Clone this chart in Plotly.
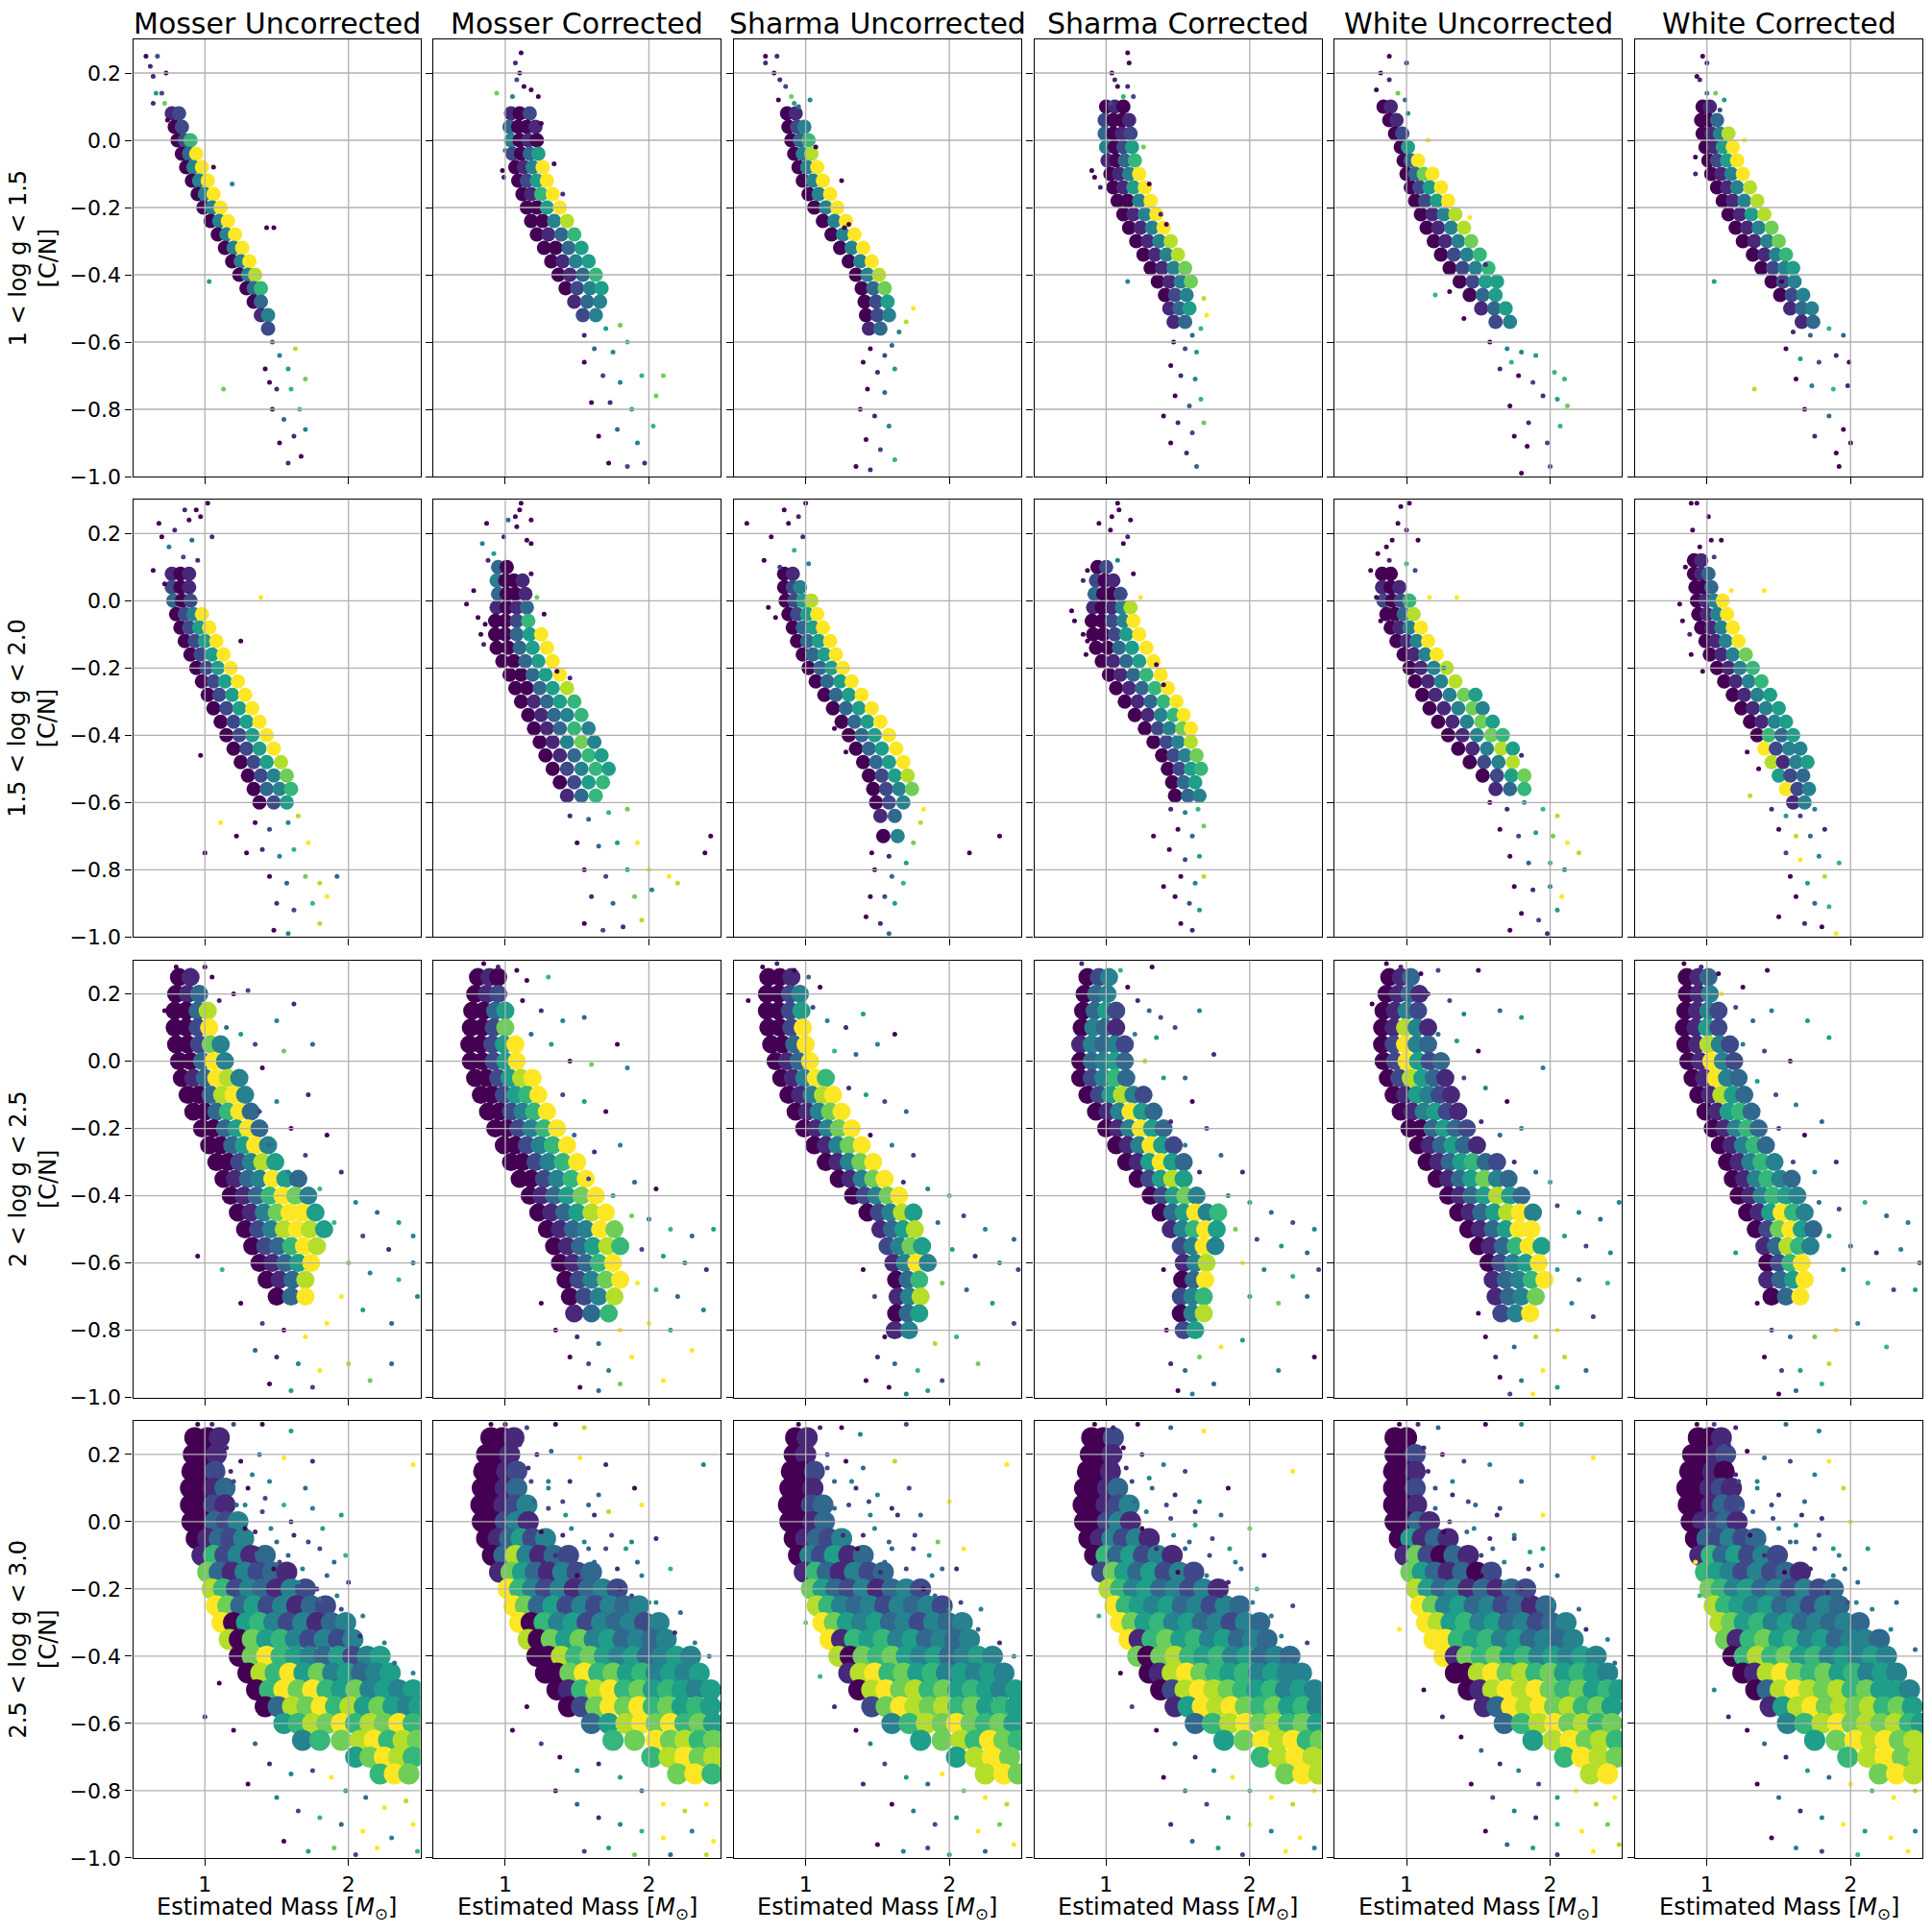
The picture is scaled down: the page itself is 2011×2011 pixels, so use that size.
import plotly.graph_objects as go

# grid of C/N vs estimated mass, one column per scaling relation, one row per log g bin
METHODS = ['Mosser Uncorrected', 'Mosser Corrected', 'Sharma Uncorrected',
           'Sharma Corrected', 'White Uncorrected', 'White Corrected']
ROW_LABELS = ['1 &lt; log g &lt; 1.5', '1.5 &lt; log g &lt; 2.0',
              '2 &lt; log g &lt; 2.5', '2.5 &lt; log g &lt; 3.0']
X_TICKS = [1, 2]
Y_TICKS = [-1.0, -0.8, -0.6, -0.4, -0.2, 0.0, 0.2]
Y_TICKTEXT = ['\u22121.0', '\u22120.8', '\u22120.6', '\u22120.4', '\u22120.2', '0.0', '0.2']

# dense part of each cloud: (C/N, [(mass, colour 0..9), ...])
MU1_CORE = [
    (0.08, [(0.77, 1), (0.82, 2)]),
    (0.04, [(0.79, 0), (0.84, 2)]),
    (0.00, [(0.81, 0), (0.86, 2), (0.90, 6)]),
    (-0.04, [(0.84, 0), (0.89, 3), (0.94, 9)]),
    (-0.08, [(0.87, 0), (0.92, 4), (0.98, 9)]),
    (-0.12, [(0.91, 0), (0.96, 4), (1.02, 9)]),
    (-0.16, [(0.95, 0), (1.00, 4), (1.06, 9)]),
    (-0.20, [(0.99, 0), (1.05, 4), (1.11, 9)]),
    (-0.24, [(1.04, 0), (1.10, 4), (1.16, 9)]),
    (-0.28, [(1.09, 0), (1.15, 4), (1.21, 9)]),
    (-0.32, [(1.14, 0), (1.20, 4), (1.26, 9)]),
    (-0.36, [(1.19, 0), (1.25, 4), (1.31, 9)]),
    (-0.40, [(1.24, 0), (1.30, 4), (1.35, 8)]),
    (-0.44, [(1.29, 0), (1.34, 3), (1.39, 6)]),
    (-0.48, [(1.34, 0), (1.39, 3)]),
    (-0.52, [(1.39, 1), (1.44, 4)]),
    (-0.56, [(1.44, 2)]),
]
MC1_CORE = [
    (0.08, [(1.04, 1), (1.10, 0), (1.17, 2)]),
    (0.04, [(1.03, 3), (1.09, 0), (1.15, 0), (1.21, 1)]),
    (0.00, [(1.04, 4), (1.10, 0), (1.16, 1), (1.22, 0)]),
    (-0.04, [(1.05, 2), (1.11, 0), (1.17, 3), (1.23, 5)]),
    (-0.08, [(1.07, 0), (1.13, 1), (1.19, 4), (1.26, 9)]),
    (-0.12, [(1.09, 0), (1.15, 2), (1.22, 5), (1.29, 9)]),
    (-0.16, [(1.12, 0), (1.18, 1), (1.25, 6), (1.33, 9)]),
    (-0.20, [(1.15, 0), (1.22, 0), (1.29, 5), (1.38, 9)]),
    (-0.24, [(1.18, 0), (1.26, 0), (1.34, 4), (1.43, 8)]),
    (-0.28, [(1.22, 0), (1.30, 1), (1.39, 3), (1.48, 6)]),
    (-0.32, [(1.27, 0), (1.35, 0), (1.44, 3), (1.53, 5)]),
    (-0.36, [(1.32, 0), (1.40, 1), (1.49, 4), (1.58, 5)]),
    (-0.40, [(1.37, 0), (1.45, 1), (1.54, 3), (1.63, 6)]),
    (-0.44, [(1.42, 0), (1.50, 2), (1.59, 4), (1.67, 5)]),
    (-0.48, [(1.48, 1), (1.57, 3), (1.66, 4)]),
    (-0.52, [(1.54, 2), (1.63, 4)]),
]
SU1_CORE = [
    (0.08, [(0.87, 0), (0.93, 1)]),
    (0.04, [(0.88, 0), (0.94, 2), (0.99, 4)]),
    (0.00, [(0.90, 0), (0.96, 3), (1.02, 6)]),
    (-0.04, [(0.92, 0), (0.98, 4), (1.04, 8)]),
    (-0.08, [(0.95, 0), (1.01, 4), (1.08, 9)]),
    (-0.12, [(0.98, 0), (1.05, 4), (1.12, 9)]),
    (-0.16, [(1.02, 0), (1.09, 4), (1.17, 9)]),
    (-0.20, [(1.06, 0), (1.14, 4), (1.22, 9)]),
    (-0.24, [(1.12, 0), (1.20, 4), (1.28, 9)]),
    (-0.28, [(1.18, 0), (1.26, 4), (1.34, 9)]),
    (-0.32, [(1.24, 0), (1.32, 4), (1.40, 9)]),
    (-0.36, [(1.30, 0), (1.38, 4), (1.46, 9)]),
    (-0.40, [(1.35, 0), (1.43, 4), (1.51, 8)]),
    (-0.44, [(1.39, 0), (1.47, 3), (1.55, 7)]),
    (-0.48, [(1.41, 0), (1.49, 2), (1.57, 5)]),
    (-0.52, [(1.42, 0), (1.50, 2), (1.58, 4)]),
    (-0.56, [(1.44, 1), (1.52, 3)]),
]
SC1_CORE = [
    (0.10, [(1.00, 0), (1.06, 1), (1.12, 0)]),
    (0.06, [(0.99, 2), (1.05, 0), (1.11, 0), (1.16, 1)]),
    (0.02, [(0.99, 3), (1.05, 0), (1.11, 1), (1.17, 2)]),
    (-0.02, [(1.00, 4), (1.06, 0), (1.12, 2), (1.18, 5)]),
    (-0.06, [(1.01, 1), (1.07, 0), (1.13, 3), (1.20, 6)]),
    (-0.10, [(1.03, 0), (1.09, 1), (1.16, 4), (1.23, 9)]),
    (-0.14, [(1.05, 0), (1.12, 1), (1.19, 5), (1.27, 9)]),
    (-0.18, [(1.08, 0), (1.15, 0), (1.23, 4), (1.31, 9)]),
    (-0.22, [(1.12, 0), (1.19, 1), (1.27, 4), (1.35, 9)]),
    (-0.26, [(1.16, 0), (1.24, 1), (1.32, 4), (1.40, 9)]),
    (-0.30, [(1.21, 0), (1.29, 1), (1.37, 4), (1.45, 8)]),
    (-0.34, [(1.26, 0), (1.34, 1), (1.42, 4), (1.50, 8)]),
    (-0.38, [(1.31, 0), (1.39, 1), (1.47, 4), (1.55, 7)]),
    (-0.42, [(1.36, 0), (1.44, 1), (1.52, 4), (1.59, 7)]),
    (-0.46, [(1.41, 0), (1.48, 2), (1.56, 4)]),
    (-0.50, [(1.44, 1), (1.51, 3), (1.58, 5)]),
    (-0.54, [(1.47, 1), (1.55, 3)]),
]
WU1_CORE = [
    (0.10, [(0.84, 0), (0.89, 1)]),
    (0.06, [(0.88, 0), (0.93, 1)]),
    (0.02, [(0.92, 0), (0.97, 2)]),
    (-0.02, [(0.96, 0), (1.01, 5)]),
    (-0.06, [(0.98, 0), (1.03, 3), (1.08, 9)]),
    (-0.10, [(1.00, 0), (1.06, 3), (1.12, 7), (1.18, 9)]),
    (-0.14, [(1.03, 0), (1.09, 2), (1.16, 5), (1.24, 9)]),
    (-0.18, [(1.06, 0), (1.13, 2), (1.21, 5), (1.29, 9)]),
    (-0.22, [(1.10, 0), (1.18, 1), (1.26, 4), (1.34, 8)]),
    (-0.26, [(1.14, 0), (1.22, 1), (1.31, 4), (1.40, 8)]),
    (-0.30, [(1.19, 0), (1.27, 1), (1.36, 4), (1.45, 7)]),
    (-0.34, [(1.24, 0), (1.33, 2), (1.42, 4), (1.51, 6)]),
    (-0.38, [(1.30, 0), (1.39, 2), (1.48, 4), (1.57, 6)]),
    (-0.42, [(1.37, 0), (1.46, 2), (1.55, 5), (1.63, 5)]),
    (-0.46, [(1.44, 0), (1.53, 3), (1.62, 5)]),
    (-0.50, [(1.52, 1), (1.61, 3), (1.69, 5)]),
    (-0.54, [(1.62, 2), (1.72, 4)]),
]
WC1_CORE = [
    (0.10, [(0.97, 0), (1.02, 1)]),
    (0.06, [(0.96, 0), (1.01, 0), (1.07, 3)]),
    (0.02, [(0.97, 0), (1.03, 1), (1.09, 4), (1.15, 8)]),
    (-0.02, [(0.99, 0), (1.05, 1), (1.11, 5), (1.18, 9)]),
    (-0.06, [(1.01, 0), (1.07, 2), (1.14, 5), (1.21, 9)]),
    (-0.10, [(1.03, 0), (1.10, 1), (1.17, 4), (1.25, 9)]),
    (-0.14, [(1.07, 0), (1.14, 1), (1.21, 4), (1.30, 8)]),
    (-0.18, [(1.11, 0), (1.18, 1), (1.26, 4), (1.35, 8)]),
    (-0.22, [(1.15, 0), (1.23, 1), (1.31, 5), (1.40, 8)]),
    (-0.26, [(1.20, 0), (1.28, 1), (1.36, 4), (1.45, 7)]),
    (-0.30, [(1.25, 0), (1.33, 1), (1.42, 4), (1.50, 7)]),
    (-0.34, [(1.32, 0), (1.40, 1), (1.48, 4), (1.55, 6)]),
    (-0.38, [(1.38, 0), (1.46, 2), (1.54, 4), (1.60, 5)]),
    (-0.42, [(1.45, 0), (1.53, 2), (1.61, 4)]),
    (-0.46, [(1.51, 0), (1.59, 2), (1.67, 4)]),
    (-0.50, [(1.58, 1), (1.66, 3), (1.73, 4)]),
    (-0.54, [(1.66, 1), (1.74, 3)]),
]

MU2_CORE = [
    (0.08, [(0.77, 1), (0.83, 0), (0.89, 1)]),
    (0.04, [(0.77, 2), (0.83, 0), (0.89, 1)]),
    (0.00, [(0.78, 3), (0.84, 0), (0.90, 2)]),
    (-0.04, [(0.80, 0), (0.86, 2), (0.92, 4), (0.98, 9)]),
    (-0.08, [(0.83, 0), (0.89, 2), (0.96, 5), (1.03, 9)]),
    (-0.12, [(0.86, 0), (0.93, 2), (1.00, 5), (1.08, 9)]),
    (-0.16, [(0.90, 0), (0.97, 2), (1.05, 5), (1.13, 9)]),
    (-0.20, [(0.94, 0), (1.01, 2), (1.09, 5), (1.18, 9)]),
    (-0.24, [(0.98, 0), (1.06, 2), (1.14, 5), (1.23, 9)]),
    (-0.28, [(1.02, 0), (1.10, 2), (1.19, 5), (1.28, 9)]),
    (-0.32, [(1.06, 0), (1.15, 2), (1.24, 5), (1.33, 9)]),
    (-0.36, [(1.11, 0), (1.20, 2), (1.29, 5), (1.38, 9)]),
    (-0.40, [(1.15, 0), (1.24, 2), (1.33, 5), (1.43, 9)]),
    (-0.44, [(1.20, 0), (1.29, 2), (1.38, 5), (1.48, 9)]),
    (-0.48, [(1.25, 0), (1.34, 2), (1.43, 5), (1.53, 8)]),
    (-0.52, [(1.30, 0), (1.39, 2), (1.48, 4), (1.57, 7)]),
    (-0.56, [(1.34, 0), (1.43, 3), (1.52, 4), (1.60, 6)]),
    (-0.60, [(1.38, 0), (1.48, 2), (1.57, 5)]),
]
MC2_CORE = [
    (0.10, [(0.95, 3), (1.01, 0)]),
    (0.06, [(0.94, 4), (1.00, 0), (1.06, 0), (1.12, 1)]),
    (0.02, [(0.95, 3), (1.01, 0), (1.07, 0), (1.14, 1)]),
    (-0.02, [(0.94, 1), (1.01, 0), (1.08, 1), (1.15, 3)]),
    (-0.06, [(0.93, 0), (1.00, 0), (1.08, 2), (1.16, 6)]),
    (-0.10, [(0.93, 0), (1.00, 0), (1.08, 3), (1.17, 5), (1.25, 9)]),
    (-0.14, [(0.94, 0), (1.02, 0), (1.10, 3), (1.19, 5), (1.29, 9)]),
    (-0.18, [(0.98, 0), (1.06, 0), (1.14, 3), (1.23, 5), (1.33, 9)]),
    (-0.22, [(1.03, 0), (1.11, 0), (1.19, 3), (1.28, 5), (1.38, 9)]),
    (-0.26, [(1.07, 0), (1.15, 0), (1.24, 3), (1.33, 5), (1.43, 8)]),
    (-0.30, [(1.11, 0), (1.20, 1), (1.29, 3), (1.38, 5), (1.48, 6)]),
    (-0.34, [(1.16, 0), (1.25, 1), (1.34, 3), (1.43, 4), (1.53, 6)]),
    (-0.38, [(1.20, 0), (1.29, 1), (1.38, 3), (1.48, 6), (1.58, 4)]),
    (-0.42, [(1.24, 0), (1.33, 1), (1.43, 4), (1.53, 7), (1.62, 4)]),
    (-0.46, [(1.28, 0), (1.38, 1), (1.48, 3), (1.58, 6), (1.67, 5)]),
    (-0.50, [(1.33, 0), (1.43, 2), (1.53, 4), (1.63, 6), (1.72, 5)]),
    (-0.54, [(1.38, 0), (1.48, 2), (1.58, 5), (1.68, 6)]),
    (-0.58, [(1.43, 1), (1.53, 3), (1.63, 6)]),
]
SU2_CORE = [
    (0.08, [(0.85, 0), (0.91, 1)]),
    (0.04, [(0.85, 0), (0.91, 2), (0.96, 4)]),
    (0.00, [(0.86, 0), (0.92, 2), (0.98, 5), (1.04, 8)]),
    (-0.04, [(0.88, 0), (0.94, 2), (1.01, 5), (1.08, 9)]),
    (-0.08, [(0.91, 0), (0.98, 3), (1.05, 5), (1.12, 9)]),
    (-0.12, [(0.94, 0), (1.01, 3), (1.09, 5), (1.17, 9)]),
    (-0.16, [(0.98, 0), (1.05, 3), (1.13, 5), (1.21, 9)]),
    (-0.20, [(1.02, 0), (1.10, 3), (1.18, 5), (1.26, 9)]),
    (-0.24, [(1.07, 0), (1.15, 3), (1.24, 5), (1.32, 9)]),
    (-0.28, [(1.13, 0), (1.21, 3), (1.30, 5), (1.39, 9)]),
    (-0.32, [(1.19, 0), (1.28, 3), (1.37, 5), (1.46, 9)]),
    (-0.36, [(1.25, 0), (1.34, 3), (1.43, 5), (1.52, 9)]),
    (-0.40, [(1.30, 0), (1.39, 3), (1.48, 5), (1.58, 9)]),
    (-0.44, [(1.35, 0), (1.44, 3), (1.53, 5), (1.63, 9)]),
    (-0.48, [(1.40, 0), (1.49, 3), (1.58, 5), (1.68, 9)]),
    (-0.52, [(1.44, 0), (1.53, 2), (1.62, 5), (1.71, 8)]),
    (-0.56, [(1.47, 0), (1.56, 2), (1.65, 4), (1.74, 7)]),
    (-0.60, [(1.49, 0), (1.58, 2), (1.68, 4)]),
    (-0.64, [(1.52, 1), (1.62, 3)]),
    (-0.70, [(1.54, 0), (1.64, 4)]),
]
SC2_CORE = [
    (0.10, [(0.94, 0), (1.00, 2)]),
    (0.06, [(0.93, 2), (0.99, 0), (1.05, 1)]),
    (0.02, [(0.92, 3), (0.98, 0), (1.04, 0), (1.10, 2)]),
    (-0.02, [(0.91, 1), (0.97, 0), (1.04, 1), (1.11, 4), (1.17, 8)]),
    (-0.06, [(0.90, 0), (0.97, 0), (1.04, 2), (1.12, 4), (1.19, 9)]),
    (-0.10, [(0.91, 0), (0.98, 0), (1.06, 2), (1.14, 5), (1.23, 9)]),
    (-0.14, [(0.93, 0), (1.01, 0), (1.09, 3), (1.18, 5), (1.28, 9)]),
    (-0.18, [(0.97, 0), (1.05, 1), (1.14, 3), (1.23, 5), (1.33, 9)]),
    (-0.22, [(1.02, 0), (1.10, 1), (1.19, 3), (1.28, 6), (1.38, 9)]),
    (-0.26, [(1.07, 0), (1.16, 1), (1.25, 3), (1.34, 6), (1.43, 9)]),
    (-0.30, [(1.13, 0), (1.22, 1), (1.31, 3), (1.40, 6), (1.49, 9)]),
    (-0.34, [(1.20, 0), (1.29, 1), (1.38, 4), (1.47, 6), (1.54, 9)]),
    (-0.38, [(1.27, 0), (1.36, 2), (1.44, 4), (1.53, 7), (1.59, 9)]),
    (-0.42, [(1.33, 0), (1.42, 2), (1.50, 4), (1.59, 8)]),
    (-0.46, [(1.39, 0), (1.47, 2), (1.55, 4), (1.63, 7)]),
    (-0.50, [(1.43, 0), (1.51, 2), (1.59, 5), (1.66, 6)]),
    (-0.54, [(1.46, 0), (1.54, 3), (1.62, 5)]),
    (-0.58, [(1.48, 0), (1.57, 3), (1.65, 4)]),
]
WU2_CORE = [
    (0.08, [(0.83, 0), (0.89, 0)]),
    (0.04, [(0.83, 1), (0.89, 0), (0.95, 1)]),
    (0.00, [(0.84, 2), (0.90, 0), (0.96, 2), (1.02, 6)]),
    (-0.04, [(0.86, 0), (0.92, 0), (0.98, 3), (1.05, 8)]),
    (-0.08, [(0.89, 0), (0.95, 1), (1.02, 4), (1.10, 9)]),
    (-0.12, [(0.93, 0), (1.00, 1), (1.07, 4), (1.15, 9)]),
    (-0.16, [(0.98, 0), (1.05, 1), (1.13, 4), (1.21, 9)]),
    (-0.20, [(1.02, 0), (1.10, 1), (1.19, 4), (1.28, 8)]),
    (-0.24, [(1.06, 0), (1.15, 1), (1.24, 4), (1.34, 8)]),
    (-0.28, [(1.11, 0), (1.20, 1), (1.30, 4), (1.40, 7), (1.48, 5)]),
    (-0.32, [(1.16, 0), (1.26, 1), (1.36, 4), (1.46, 7), (1.53, 4)]),
    (-0.36, [(1.22, 0), (1.32, 1), (1.42, 4), (1.52, 7), (1.60, 5)]),
    (-0.40, [(1.29, 0), (1.39, 1), (1.49, 4), (1.59, 7), (1.67, 6)]),
    (-0.44, [(1.36, 0), (1.46, 1), (1.56, 4), (1.66, 8), (1.74, 5)]),
    (-0.48, [(1.44, 0), (1.54, 2), (1.64, 4), (1.74, 8)]),
    (-0.52, [(1.53, 0), (1.63, 2), (1.73, 5), (1.82, 7)]),
    (-0.56, [(1.62, 1), (1.72, 3), (1.82, 6)]),
]
WC2_CORE = [
    (0.12, [(0.91, 0), (0.96, 1)]),
    (0.08, [(0.91, 0), (0.96, 1), (1.01, 3)]),
    (0.04, [(0.92, 0), (0.97, 0), (1.03, 3)]),
    (0.00, [(0.93, 0), (0.99, 1), (1.05, 4), (1.11, 9)]),
    (-0.04, [(0.94, 0), (1.00, 1), (1.07, 4), (1.14, 9)]),
    (-0.08, [(0.96, 0), (1.03, 1), (1.10, 4), (1.18, 9)]),
    (-0.12, [(0.99, 0), (1.06, 1), (1.13, 4), (1.22, 9)]),
    (-0.16, [(1.02, 0), (1.10, 1), (1.18, 4), (1.27, 7)]),
    (-0.20, [(1.07, 0), (1.15, 1), (1.23, 4), (1.32, 6)]),
    (-0.24, [(1.12, 0), (1.20, 1), (1.29, 4), (1.38, 6)]),
    (-0.28, [(1.18, 0), (1.26, 1), (1.35, 4), (1.44, 5)]),
    (-0.32, [(1.24, 0), (1.32, 1), (1.41, 4), (1.50, 5)]),
    (-0.36, [(1.30, 0), (1.38, 1), (1.47, 4), (1.55, 5)]),
    (-0.40, [(1.35, 0), (1.43, 6), (1.52, 3), (1.60, 5)]),
    (-0.44, [(1.40, 9), (1.48, 2), (1.57, 4), (1.65, 4)]),
    (-0.48, [(1.45, 8), (1.53, 1), (1.62, 4), (1.70, 5)]),
    (-0.52, [(1.50, 5), (1.58, 2), (1.67, 3)]),
    (-0.56, [(1.55, 9), (1.63, 2), (1.71, 4)]),
    (-0.60, [(1.60, 1), (1.68, 4)]),
]

MU3_CORE = [
    (0.25, [(0.82, 0), (0.90, 1)]),
    (0.20, [(0.80, 0), (0.88, 1), (0.96, 3)]),
    (0.15, [(0.79, 0), (0.87, 0), (0.95, 3), (1.02, 8)]),
    (0.10, [(0.79, 0), (0.87, 0), (0.95, 2), (1.03, 9)]),
    (0.05, [(0.80, 0), (0.88, 0), (0.96, 2), (1.04, 7), (1.11, 4)]),
    (0.00, [(0.82, 0), (0.90, 0), (0.98, 3), (1.06, 9), (1.14, 4)]),
    (-0.05, [(0.84, 0), (0.92, 1), (1.00, 3), (1.08, 9), (1.16, 8), (1.24, 4)]),
    (-0.10, [(0.88, 0), (0.96, 0), (1.04, 3), (1.12, 8), (1.20, 9), (1.28, 4)]),
    (-0.15, [(0.92, 0), (1.00, 0), (1.08, 3), (1.16, 6), (1.24, 9), (1.32, 3)]),
    (-0.20, [(0.98, 0), (1.06, 0), (1.14, 3), (1.22, 5), (1.30, 9), (1.38, 3)]),
    (-0.25, [(1.03, 0), (1.11, 0), (1.19, 3), (1.27, 5), (1.35, 9), (1.44, 4)]),
    (-0.30, [(1.08, 0), (1.16, 0), (1.24, 2), (1.32, 4), (1.40, 8), (1.49, 5)]),
    (-0.35, [(1.13, 0), (1.21, 1), (1.30, 3), (1.38, 4), (1.47, 9), (1.56, 5), (1.65, 3)]),
    (-0.40, [(1.18, 0), (1.27, 1), (1.36, 3), (1.45, 6), (1.54, 9), (1.63, 7), (1.72, 4)]),
    (-0.45, [(1.23, 0), (1.32, 1), (1.41, 4), (1.50, 7), (1.59, 9), (1.68, 9), (1.77, 5)]),
    (-0.50, [(1.28, 0), (1.37, 2), (1.46, 4), (1.55, 8), (1.64, 9), (1.73, 8), (1.83, 5)]),
    (-0.55, [(1.33, 0), (1.42, 2), (1.51, 3), (1.60, 6), (1.69, 9), (1.78, 8)]),
    (-0.60, [(1.38, 0), (1.47, 1), (1.56, 3), (1.65, 5), (1.74, 9)]),
    (-0.65, [(1.43, 0), (1.52, 1), (1.61, 3), (1.70, 8)]),
    (-0.70, [(1.50, 0), (1.60, 3), (1.70, 9)]),
]
MC3_CORE = [
    (0.25, [(0.81, 0), (0.89, 1), (0.95, 0)]),
    (0.20, [(0.79, 0), (0.87, 1), (0.95, 2)]),
    (0.15, [(0.77, 0), (0.85, 0), (0.93, 3), (1.00, 5)]),
    (0.10, [(0.76, 0), (0.84, 0), (0.92, 2), (1.00, 7)]),
    (0.05, [(0.75, 0), (0.83, 0), (0.91, 2), (0.99, 5), (1.07, 9)]),
    (0.00, [(0.76, 0), (0.84, 0), (0.92, 2), (1.00, 5), (1.08, 9)]),
    (-0.05, [(0.79, 0), (0.87, 0), (0.95, 2), (1.03, 5), (1.11, 8), (1.19, 9)]),
    (-0.10, [(0.83, 0), (0.91, 0), (0.99, 2), (1.07, 5), (1.15, 6), (1.23, 9)]),
    (-0.15, [(0.88, 0), (0.96, 0), (1.04, 2), (1.12, 4), (1.20, 6), (1.29, 9)]),
    (-0.20, [(0.93, 0), (1.01, 0), (1.09, 2), (1.18, 4), (1.27, 6), (1.36, 9)]),
    (-0.25, [(0.99, 0), (1.07, 0), (1.15, 2), (1.24, 4), (1.33, 6), (1.43, 9)]),
    (-0.30, [(1.04, 0), (1.12, 0), (1.21, 2), (1.30, 4), (1.40, 6), (1.50, 9)]),
    (-0.35, [(1.10, 0), (1.18, 0), (1.27, 2), (1.36, 4), (1.46, 6), (1.56, 9)]),
    (-0.40, [(1.17, 0), (1.25, 1), (1.34, 3), (1.43, 5), (1.53, 7), (1.63, 9)]),
    (-0.45, [(1.23, 0), (1.32, 1), (1.41, 3), (1.50, 5), (1.60, 8), (1.70, 9)]),
    (-0.50, [(1.29, 0), (1.38, 1), (1.47, 3), (1.56, 4), (1.66, 9), (1.76, 7)]),
    (-0.55, [(1.34, 0), (1.43, 1), (1.52, 3), (1.61, 5), (1.71, 8), (1.80, 6)]),
    (-0.60, [(1.38, 0), (1.47, 1), (1.56, 3), (1.65, 6), (1.75, 9)]),
    (-0.65, [(1.42, 0), (1.51, 2), (1.60, 4), (1.70, 7), (1.80, 9)]),
    (-0.70, [(1.45, 0), (1.55, 2), (1.65, 4), (1.76, 8)]),
    (-0.75, [(1.48, 1), (1.60, 3), (1.72, 6)]),
]
SU3_CORE = [
    (0.25, [(0.74, 0), (0.82, 0), (0.90, 1)]),
    (0.20, [(0.73, 0), (0.81, 0), (0.89, 2), (0.96, 4)]),
    (0.15, [(0.73, 0), (0.81, 0), (0.89, 2), (0.97, 5)]),
    (0.10, [(0.74, 0), (0.82, 0), (0.90, 2), (0.98, 9)]),
    (0.05, [(0.76, 0), (0.84, 0), (0.92, 3), (1.00, 9)]),
    (0.00, [(0.79, 0), (0.87, 1), (0.95, 3), (1.03, 9)]),
    (-0.05, [(0.83, 0), (0.91, 1), (0.99, 4), (1.07, 9), (1.14, 6)]),
    (-0.10, [(0.88, 0), (0.96, 1), (1.04, 4), (1.12, 8), (1.19, 9)]),
    (-0.15, [(0.93, 0), (1.01, 1), (1.09, 4), (1.17, 7), (1.25, 9)]),
    (-0.20, [(0.99, 0), (1.07, 1), (1.15, 4), (1.23, 7), (1.32, 9)]),
    (-0.25, [(1.06, 0), (1.14, 1), (1.22, 4), (1.30, 7), (1.39, 9)]),
    (-0.30, [(1.14, 0), (1.22, 1), (1.30, 4), (1.38, 7), (1.47, 9)]),
    (-0.35, [(1.23, 0), (1.31, 1), (1.39, 4), (1.47, 7), (1.55, 9)]),
    (-0.40, [(1.33, 0), (1.41, 2), (1.49, 4), (1.57, 7), (1.65, 9)]),
    (-0.45, [(1.43, 0), (1.51, 2), (1.59, 4), (1.67, 8), (1.75, 5)]),
    (-0.50, [(1.52, 1), (1.60, 3), (1.68, 5), (1.76, 8)]),
    (-0.55, [(1.57, 2), (1.65, 4), (1.73, 7), (1.81, 5)]),
    (-0.60, [(1.61, 1), (1.69, 4), (1.77, 9), (1.85, 4)]),
    (-0.65, [(1.63, 0), (1.71, 3), (1.79, 6)]),
    (-0.70, [(1.64, 1), (1.72, 4), (1.80, 8)]),
    (-0.75, [(1.63, 0), (1.71, 3), (1.79, 5)]),
    (-0.80, [(1.62, 1), (1.72, 4)]),
]
SC3_CORE = [
    (0.25, [(0.87, 0), (0.95, 2), (1.02, 4)]),
    (0.20, [(0.85, 0), (0.93, 3), (1.01, 4)]),
    (0.15, [(0.84, 0), (0.92, 3), (1.00, 5), (1.07, 2)]),
    (0.10, [(0.83, 0), (0.91, 4), (0.99, 3), (1.07, 1)]),
    (0.05, [(0.82, 1), (0.90, 4), (0.98, 3), (1.06, 4), (1.13, 2)]),
    (0.00, [(0.82, 0), (0.90, 3), (0.98, 4), (1.06, 5), (1.13, 3)]),
    (-0.05, [(0.82, 0), (0.90, 2), (0.98, 4), (1.06, 6), (1.14, 3)]),
    (-0.10, [(0.87, 0), (0.95, 2), (1.03, 5), (1.11, 8), (1.19, 4), (1.26, 2)]),
    (-0.15, [(0.93, 0), (1.01, 1), (1.09, 4), (1.17, 9), (1.25, 5), (1.33, 3)]),
    (-0.20, [(1.00, 0), (1.08, 1), (1.16, 4), (1.24, 9), (1.32, 5), (1.40, 3)]),
    (-0.25, [(1.07, 0), (1.15, 1), (1.23, 4), (1.31, 9), (1.39, 5), (1.47, 2)]),
    (-0.30, [(1.14, 0), (1.22, 1), (1.30, 5), (1.38, 9), (1.46, 5), (1.54, 3)]),
    (-0.35, [(1.22, 0), (1.30, 2), (1.38, 5), (1.46, 8), (1.54, 5)]),
    (-0.40, [(1.31, 0), (1.39, 2), (1.47, 5), (1.55, 7), (1.63, 4)]),
    (-0.45, [(1.38, 0), (1.46, 3), (1.54, 5), (1.62, 9), (1.70, 4), (1.78, 6)]),
    (-0.50, [(1.45, 1), (1.53, 4), (1.61, 6), (1.69, 9), (1.77, 5)]),
    (-0.55, [(1.52, 2), (1.60, 4), (1.68, 9), (1.76, 4)]),
    (-0.60, [(1.54, 1), (1.62, 4), (1.70, 8)]),
    (-0.65, [(1.53, 0), (1.61, 3), (1.69, 9)]),
    (-0.70, [(1.52, 2), (1.60, 4), (1.68, 6)]),
    (-0.75, [(1.52, 0), (1.60, 4), (1.68, 8)]),
    (-0.80, [(1.54, 2), (1.62, 5)]),
]
WU3_CORE = [
    (0.25, [(0.88, 0), (0.96, 1), (1.03, 3)]),
    (0.20, [(0.86, 0), (0.94, 1), (1.02, 3), (1.09, 1)]),
    (0.15, [(0.84, 0), (0.92, 1), (1.00, 4), (1.08, 2)]),
    (0.10, [(0.83, 0), (0.91, 1), (0.99, 8), (1.07, 4), (1.15, 1)]),
    (0.05, [(0.83, 0), (0.91, 2), (0.99, 9), (1.07, 4), (1.15, 3)]),
    (0.00, [(0.84, 0), (0.92, 2), (1.00, 9), (1.08, 5), (1.16, 2), (1.24, 3)]),
    (-0.05, [(0.87, 0), (0.95, 2), (1.03, 8), (1.11, 5), (1.19, 3), (1.27, 1)]),
    (-0.10, [(0.91, 0), (0.99, 1), (1.07, 5), (1.15, 4), (1.23, 2), (1.31, 1)]),
    (-0.15, [(0.96, 0), (1.04, 1), (1.12, 4), (1.20, 5), (1.28, 2), (1.36, 1)]),
    (-0.20, [(1.02, 0), (1.10, 0), (1.18, 3), (1.26, 5), (1.34, 3), (1.42, 2)]),
    (-0.25, [(1.08, 0), (1.16, 1), (1.24, 3), (1.32, 5), (1.40, 3), (1.49, 1)]),
    (-0.30, [(1.14, 0), (1.22, 1), (1.30, 3), (1.38, 5), (1.46, 6), (1.55, 3), (1.63, 2)]),
    (-0.35, [(1.21, 0), (1.29, 1), (1.37, 3), (1.45, 5), (1.54, 7), (1.63, 4), (1.71, 3)]),
    (-0.40, [(1.29, 0), (1.37, 1), (1.45, 3), (1.54, 5), (1.63, 8), (1.72, 5), (1.80, 3)]),
    (-0.45, [(1.36, 0), (1.44, 1), (1.52, 3), (1.61, 5), (1.70, 8), (1.79, 9), (1.88, 4)]),
    (-0.50, [(1.43, 0), (1.51, 1), (1.60, 3), (1.69, 5), (1.78, 9), (1.87, 9)]),
    (-0.55, [(1.50, 0), (1.58, 1), (1.67, 3), (1.76, 6), (1.85, 9), (1.94, 5)]),
    (-0.60, [(1.57, 0), (1.65, 2), (1.74, 4), (1.83, 5), (1.92, 9)]),
    (-0.65, [(1.60, 1), (1.69, 3), (1.78, 4), (1.87, 6), (1.96, 9)]),
    (-0.70, [(1.62, 1), (1.71, 3), (1.80, 4), (1.90, 7)]),
    (-0.75, [(1.66, 2), (1.76, 4), (1.86, 9)]),
]
WC3_CORE = [
    (0.25, [(0.86, 0), (0.94, 1), (1.01, 3)]),
    (0.20, [(0.86, 0), (0.94, 1), (1.02, 4)]),
    (0.15, [(0.85, 0), (0.93, 1), (1.01, 4), (1.08, 2)]),
    (0.10, [(0.84, 0), (0.92, 1), (1.00, 5), (1.08, 2)]),
    (0.05, [(0.85, 0), (0.93, 1), (1.01, 8), (1.09, 4), (1.16, 2)]),
    (0.00, [(0.87, 0), (0.95, 1), (1.03, 9), (1.11, 4), (1.19, 2)]),
    (-0.05, [(0.90, 0), (0.98, 1), (1.06, 9), (1.14, 4), (1.22, 3)]),
    (-0.10, [(0.94, 0), (1.02, 1), (1.10, 8), (1.18, 5), (1.26, 3)]),
    (-0.15, [(0.99, 0), (1.07, 1), (1.15, 5), (1.23, 6), (1.31, 3)]),
    (-0.20, [(1.04, 0), (1.12, 1), (1.20, 4), (1.28, 6), (1.36, 3)]),
    (-0.25, [(1.09, 0), (1.17, 1), (1.25, 4), (1.33, 6), (1.41, 3)]),
    (-0.30, [(1.14, 0), (1.22, 1), (1.30, 4), (1.38, 6), (1.47, 4)]),
    (-0.35, [(1.18, 0), (1.26, 1), (1.34, 4), (1.42, 6), (1.51, 4), (1.59, 3)]),
    (-0.40, [(1.22, 0), (1.30, 1), (1.38, 4), (1.46, 6), (1.55, 5), (1.63, 4)]),
    (-0.45, [(1.28, 0), (1.36, 1), (1.44, 5), (1.52, 9), (1.60, 6), (1.68, 4)]),
    (-0.50, [(1.34, 0), (1.42, 2), (1.50, 7), (1.58, 9), (1.66, 5), (1.74, 3)]),
    (-0.55, [(1.40, 1), (1.48, 3), (1.56, 8), (1.64, 6), (1.72, 4)]),
    (-0.60, [(1.42, 0), (1.50, 2), (1.58, 6), (1.66, 9)]),
    (-0.65, [(1.42, 1), (1.51, 3), (1.60, 5), (1.68, 9)]),
    (-0.70, [(1.45, 0), (1.55, 3), (1.65, 9)]),
]

MU4_CORE = [
    (0.25, [(0.93, 0), (1.02, 0), (1.10, 1)]),
    (0.20, [(0.92, 0), (1.00, 0), (1.08, 1)]),
    (0.15, [(0.91, 0), (0.99, 0), (1.07, 2)]),
    (0.10, [(0.90, 0), (0.98, 0), (1.06, 1), (1.14, 3)]),
    (0.05, [(0.90, 0), (0.98, 0), (1.06, 2), (1.14, 1)]),
    (0.00, [(0.91, 0), (0.99, 0), (1.07, 3), (1.15, 2), (1.23, 4)]),
    (-0.05, [(0.94, 0), (1.02, 1), (1.10, 3), (1.18, 2), (1.27, 4)]),
    (-0.10, [(0.98, 1), (1.06, 6), (1.14, 2), (1.23, 4), (1.32, 1), (1.42, 3)]),
    (-0.15, [(1.02, 7), (1.10, 3), (1.19, 1), (1.28, 4), (1.37, 2), (1.47, 3), (1.57, 1)]),
    (-0.20, [(1.05, 8), (1.13, 6), (1.22, 2), (1.31, 4), (1.40, 3), (1.50, 1), (1.60, 4), (1.70, 2)]),
    (-0.25, [(1.08, 9), (1.16, 7), (1.25, 3), (1.34, 5), (1.44, 2), (1.54, 4), (1.64, 1), (1.74, 3), (1.84, 2)]),
    (-0.30, [(1.12, 9), (1.20, 0), (1.29, 5), (1.38, 6), (1.48, 4), (1.58, 2), (1.68, 4), (1.78, 1), (1.88, 3), (1.98, 4)]),
    (-0.35, [(1.17, 8), (1.24, 0), (1.33, 7), (1.43, 5), (1.53, 6), (1.63, 4), (1.73, 2), (1.83, 4), (1.93, 2), (2.03, 4)]),
    (-0.40, [(1.24, 0), (1.33, 7), (1.43, 9), (1.53, 6), (1.63, 5), (1.73, 4), (1.83, 3), (1.93, 5), (2.03, 2), (2.13, 4), (2.22, 5)]),
    (-0.45, [(1.30, 0), (1.39, 8), (1.49, 6), (1.59, 9), (1.69, 5), (1.79, 7), (1.89, 4), (1.99, 5), (2.09, 3), (2.19, 4), (2.29, 5)]),
    (-0.50, [(1.36, 0), (1.45, 6), (1.55, 9), (1.65, 7), (1.75, 9), (1.85, 6), (1.95, 5), (2.05, 7), (2.15, 4), (2.25, 5), (2.35, 4), (2.45, 5)]),
    (-0.55, [(1.42, 0), (1.51, 3), (1.61, 8), (1.71, 7), (1.81, 9), (1.91, 6), (2.01, 8), (2.11, 5), (2.21, 7), (2.31, 5), (2.41, 4), (2.49, 5)]),
    (-0.60, [(1.55, 5), (1.65, 6), (1.75, 8), (1.85, 7), (1.95, 9), (2.05, 6), (2.15, 8), (2.25, 7), (2.35, 9), (2.45, 6)]),
    (-0.65, [(1.68, 4), (1.80, 6), (1.95, 7), (2.08, 8), (2.18, 9), (2.28, 6), (2.38, 8), (2.48, 7)]),
    (-0.70, [(2.05, 5), (2.15, 7), (2.25, 9), (2.35, 8), (2.45, 6)]),
    (-0.75, [(2.22, 6), (2.32, 9), (2.42, 7)]),
]
MC4_CORE = [
    (0.25, [(0.90, 0), (0.98, 0), (1.06, 1)]),
    (0.20, [(0.87, 0), (0.95, 0), (1.03, 1)]),
    (0.15, [(0.85, 0), (0.93, 0), (1.01, 1), (1.08, 2)]),
    (0.10, [(0.84, 0), (0.92, 0), (1.00, 1), (1.08, 3)]),
    (0.05, [(0.83, 0), (0.91, 0), (0.99, 1), (1.07, 2), (1.15, 4)]),
    (0.00, [(0.84, 0), (0.92, 0), (1.00, 2), (1.08, 4), (1.16, 1)]),
    (-0.05, [(0.87, 0), (0.95, 1), (1.03, 3), (1.11, 5), (1.19, 2), (1.28, 4)]),
    (-0.10, [(0.91, 0), (0.99, 3), (1.07, 8), (1.15, 4), (1.24, 1), (1.34, 3), (1.44, 2)]),
    (-0.15, [(0.96, 1), (1.04, 7), (1.12, 5), (1.21, 3), (1.30, 1), (1.40, 4), (1.50, 2), (1.60, 3)]),
    (-0.20, [(1.02, 9), (1.10, 6), (1.19, 4), (1.28, 2), (1.38, 4), (1.48, 1), (1.58, 3), (1.68, 4), (1.78, 2)]),
    (-0.25, [(1.06, 9), (1.14, 7), (1.23, 3), (1.33, 5), (1.43, 2), (1.53, 4), (1.63, 2), (1.73, 4), (1.83, 3), (1.93, 4)]),
    (-0.30, [(1.10, 9), (1.18, 0), (1.27, 6), (1.37, 4), (1.47, 5), (1.57, 2), (1.67, 4), (1.77, 3), (1.87, 4), (1.97, 2), (2.07, 4)]),
    (-0.35, [(1.16, 8), (1.23, 0), (1.32, 7), (1.42, 5), (1.52, 7), (1.62, 4), (1.72, 5), (1.82, 3), (1.92, 4), (2.02, 3), (2.12, 4)]),
    (-0.40, [(1.22, 0), (1.30, 0), (1.39, 8), (1.49, 6), (1.59, 7), (1.69, 5), (1.79, 4), (1.89, 5), (1.99, 3), (2.09, 4), (2.19, 5), (2.29, 4)]),
    (-0.45, [(1.28, 0), (1.36, 0), (1.45, 7), (1.55, 9), (1.65, 6), (1.75, 7), (1.85, 5), (1.95, 6), (2.05, 4), (2.15, 5), (2.25, 4), (2.35, 5)]),
    (-0.50, [(1.36, 0), (1.44, 1), (1.53, 6), (1.63, 8), (1.73, 9), (1.83, 6), (1.93, 7), (2.03, 5), (2.13, 6), (2.23, 5), (2.33, 4), (2.43, 5)]),
    (-0.55, [(1.44, 0), (1.53, 2), (1.63, 7), (1.73, 9), (1.83, 7), (1.93, 9), (2.03, 6), (2.13, 7), (2.23, 5), (2.33, 6), (2.43, 5)]),
    (-0.60, [(1.60, 3), (1.72, 5), (1.84, 8), (1.95, 9), (2.05, 7), (2.15, 9), (2.25, 6), (2.35, 7), (2.45, 5)]),
    (-0.65, [(1.75, 6), (1.90, 7), (2.05, 9), (2.15, 7), (2.25, 8), (2.35, 6), (2.45, 7)]),
    (-0.70, [(2.02, 6), (2.14, 8), (2.25, 9), (2.35, 7), (2.45, 8)]),
    (-0.75, [(2.20, 7), (2.32, 9), (2.44, 6)]),
]
SU4_CORE = [
    (0.25, [(0.93, 0), (1.01, 1)]),
    (0.20, [(0.92, 0), (1.00, 1)]),
    (0.15, [(0.90, 0), (0.98, 0), (1.06, 2)]),
    (0.10, [(0.89, 0), (0.97, 0), (1.05, 1)]),
    (0.05, [(0.88, 0), (0.96, 0), (1.04, 2), (1.12, 3)]),
    (0.00, [(0.89, 0), (0.97, 0), (1.05, 1), (1.13, 3)]),
    (-0.05, [(0.92, 0), (1.00, 1), (1.08, 3), (1.16, 2), (1.25, 4)]),
    (-0.10, [(0.95, 0), (1.03, 4), (1.11, 2), (1.20, 5), (1.30, 1), (1.40, 3)]),
    (-0.15, [(0.99, 1), (1.07, 6), (1.15, 3), (1.24, 1), (1.34, 4), (1.44, 2), (1.54, 3)]),
    (-0.20, [(1.04, 7), (1.12, 5), (1.21, 3), (1.30, 2), (1.40, 4), (1.50, 1), (1.60, 3), (1.70, 4), (1.80, 2)]),
    (-0.25, [(1.08, 8), (1.16, 6), (1.25, 4), (1.35, 3), (1.45, 4), (1.55, 2), (1.65, 4), (1.75, 3), (1.85, 4), (1.95, 2)]),
    (-0.30, [(1.12, 9), (1.20, 7), (1.29, 5), (1.39, 4), (1.49, 5), (1.59, 3), (1.69, 4), (1.79, 2), (1.89, 4), (1.99, 3), (2.09, 4)]),
    (-0.35, [(1.17, 9), (1.25, 1), (1.34, 6), (1.44, 5), (1.54, 6), (1.64, 4), (1.74, 5), (1.84, 3), (1.94, 4), (2.04, 3), (2.14, 4)]),
    (-0.40, [(1.23, 8), (1.31, 0), (1.40, 7), (1.50, 6), (1.60, 7), (1.70, 5), (1.80, 4), (1.90, 5), (2.00, 3), (2.10, 4), (2.20, 5), (2.30, 4)]),
    (-0.45, [(1.30, 1), (1.38, 8), (1.48, 9), (1.58, 6), (1.68, 7), (1.78, 5), (1.88, 6), (1.98, 4), (2.08, 5), (2.18, 4), (2.28, 5), (2.38, 4)]),
    (-0.50, [(1.37, 0), (1.46, 8), (1.56, 9), (1.66, 7), (1.76, 8), (1.86, 6), (1.96, 7), (2.06, 5), (2.16, 6), (2.26, 5), (2.36, 4), (2.46, 5)]),
    (-0.55, [(1.46, 2), (1.56, 7), (1.66, 9), (1.76, 8), (1.86, 7), (1.96, 8), (2.06, 6), (2.16, 7), (2.26, 5), (2.36, 6), (2.46, 5)]),
    (-0.60, [(1.60, 4), (1.72, 6), (1.84, 8), (1.95, 7), (2.05, 9), (2.15, 7), (2.25, 6), (2.35, 7), (2.45, 5)]),
    (-0.65, [(1.80, 5), (1.95, 7), (2.08, 8), (2.18, 6), (2.28, 9), (2.38, 7), (2.48, 6)]),
    (-0.70, [(2.05, 5), (2.18, 8), (2.30, 9), (2.42, 7)]),
    (-0.75, [(2.25, 8), (2.38, 9), (2.48, 7)]),
]
SC4_CORE = [
    (0.25, [(0.90, 0), (0.98, 0), (1.05, 2)]),
    (0.20, [(0.89, 0), (0.97, 0), (1.04, 1)]),
    (0.15, [(0.87, 0), (0.95, 0), (1.03, 1)]),
    (0.10, [(0.85, 0), (0.93, 0), (1.01, 1), (1.08, 3)]),
    (0.05, [(0.84, 0), (0.92, 0), (1.00, 1), (1.08, 2), (1.16, 4)]),
    (0.00, [(0.85, 0), (0.93, 0), (1.01, 2), (1.09, 4), (1.17, 1)]),
    (-0.05, [(0.88, 0), (0.96, 1), (1.04, 4), (1.12, 2), (1.21, 4), (1.30, 1)]),
    (-0.10, [(0.92, 0), (1.00, 6), (1.08, 3), (1.17, 5), (1.26, 2), (1.36, 4), (1.46, 1)]),
    (-0.15, [(0.97, 2), (1.05, 7), (1.13, 5), (1.22, 3), (1.31, 5), (1.41, 2), (1.51, 4), (1.61, 2)]),
    (-0.20, [(1.02, 8), (1.10, 6), (1.19, 4), (1.28, 5), (1.38, 3), (1.48, 4), (1.58, 2), (1.68, 4), (1.78, 1)]),
    (-0.25, [(1.06, 9), (1.14, 6), (1.23, 5), (1.33, 4), (1.43, 5), (1.53, 3), (1.63, 4), (1.73, 2), (1.83, 4), (1.93, 3)]),
    (-0.30, [(1.10, 9), (1.18, 7), (1.27, 5), (1.37, 6), (1.47, 4), (1.57, 5), (1.67, 3), (1.77, 4), (1.87, 2), (1.97, 4), (2.07, 3)]),
    (-0.35, [(1.16, 9), (1.23, 1), (1.32, 6), (1.42, 7), (1.52, 5), (1.62, 6), (1.72, 4), (1.82, 5), (1.92, 3), (2.02, 4), (2.12, 3)]),
    (-0.40, [(1.22, 7), (1.29, 0), (1.38, 7), (1.48, 8), (1.58, 6), (1.68, 5), (1.78, 6), (1.88, 4), (1.98, 5), (2.08, 3), (2.18, 4), (2.28, 3)]),
    (-0.45, [(1.30, 0), (1.37, 1), (1.46, 8), (1.56, 9), (1.66, 7), (1.76, 6), (1.86, 5), (1.96, 6), (2.06, 4), (2.16, 5), (2.26, 4), (2.36, 4)]),
    (-0.50, [(1.38, 0), (1.46, 2), (1.55, 8), (1.65, 9), (1.75, 8), (1.85, 7), (1.95, 6), (2.05, 5), (2.15, 6), (2.25, 4), (2.35, 5), (2.45, 4)]),
    (-0.55, [(1.48, 1), (1.57, 5), (1.67, 9), (1.77, 8), (1.87, 9), (1.97, 7), (2.07, 6), (2.17, 7), (2.27, 5), (2.37, 6), (2.47, 4)]),
    (-0.60, [(1.62, 3), (1.74, 6), (1.86, 8), (1.97, 9), (2.07, 7), (2.17, 8), (2.27, 6), (2.37, 7), (2.47, 5)]),
    (-0.65, [(1.82, 5), (1.96, 7), (2.09, 9), (2.20, 8), (2.30, 9), (2.40, 6), (2.49, 7)]),
    (-0.70, [(2.08, 6), (2.20, 8), (2.32, 9), (2.44, 8)]),
    (-0.75, [(2.25, 7), (2.37, 9), (2.48, 8)]),
]
WU4_CORE = [
    (0.25, [(0.92, 0), (1.00, 0)]),
    (0.20, [(0.92, 0), (1.00, 0), (1.06, 2)]),
    (0.15, [(0.91, 0), (0.99, 0), (1.06, 1)]),
    (0.10, [(0.91, 0), (0.99, 0), (1.06, 2)]),
    (0.05, [(0.91, 0), (0.99, 0), (1.07, 1)]),
    (0.00, [(0.92, 0), (1.00, 0), (1.08, 3), (1.16, 1)]),
    (-0.05, [(0.95, 0), (1.03, 5), (1.11, 1), (1.20, 3), (1.29, 1)]),
    (-0.10, [(0.99, 1), (1.07, 7), (1.15, 2), (1.24, 0), (1.33, 3), (1.43, 1)]),
    (-0.15, [(1.03, 7), (1.11, 5), (1.20, 3), (1.29, 1), (1.39, 3), (1.49, 0), (1.59, 2)]),
    (-0.20, [(1.07, 8), (1.15, 5), (1.24, 3), (1.33, 4), (1.43, 1), (1.53, 3), (1.63, 1), (1.73, 3), (1.83, 2)]),
    (-0.25, [(1.10, 9), (1.18, 7), (1.27, 4), (1.37, 5), (1.47, 3), (1.57, 4), (1.67, 2), (1.77, 3), (1.87, 1), (1.97, 3)]),
    (-0.30, [(1.14, 9), (1.22, 8), (1.31, 5), (1.41, 6), (1.51, 4), (1.61, 5), (1.71, 3), (1.81, 4), (1.91, 2), (2.01, 3), (2.11, 4)]),
    (-0.35, [(1.19, 9), (1.27, 9), (1.36, 6), (1.46, 5), (1.56, 6), (1.66, 4), (1.76, 5), (1.86, 3), (1.96, 4), (2.06, 3), (2.16, 4)]),
    (-0.40, [(1.26, 9), (1.34, 1), (1.42, 7), (1.52, 6), (1.62, 7), (1.72, 5), (1.82, 6), (1.92, 4), (2.02, 5), (2.12, 4), (2.22, 5), (2.32, 4)]),
    (-0.45, [(1.34, 0), (1.42, 0), (1.50, 8), (1.60, 9), (1.70, 7), (1.80, 8), (1.90, 6), (2.00, 7), (2.10, 5), (2.20, 6), (2.30, 5), (2.40, 4)]),
    (-0.50, [(1.43, 0), (1.51, 1), (1.60, 8), (1.70, 9), (1.80, 8), (1.90, 9), (2.00, 7), (2.10, 6), (2.20, 7), (2.30, 5), (2.40, 6), (2.48, 5)]),
    (-0.55, [(1.54, 1), (1.63, 3), (1.73, 9), (1.83, 8), (1.93, 9), (2.03, 7), (2.13, 8), (2.23, 6), (2.33, 7), (2.43, 5)]),
    (-0.60, [(1.68, 3), (1.80, 6), (1.92, 8), (2.03, 9), (2.13, 7), (2.23, 8), (2.33, 6), (2.43, 7)]),
    (-0.65, [(1.88, 5), (2.02, 8), (2.14, 9), (2.25, 7), (2.35, 8), (2.46, 6)]),
    (-0.70, [(2.10, 6), (2.22, 9), (2.34, 8), (2.46, 7)]),
    (-0.75, [(2.28, 8), (2.40, 9)]),
]
WC4_CORE = [
    (0.25, [(0.94, 0), (1.02, 0), (1.10, 1)]),
    (0.20, [(0.90, 0), (0.98, 0), (1.06, 1), (1.13, 2)]),
    (0.15, [(0.88, 0), (0.96, 0), (1.04, 1), (1.12, 0)]),
    (0.10, [(0.86, 0), (0.94, 0), (1.02, 1), (1.10, 2), (1.17, 1)]),
    (0.05, [(0.87, 0), (0.95, 0), (1.03, 1), (1.11, 3), (1.19, 2)]),
    (0.00, [(0.89, 0), (0.97, 1), (1.05, 2), (1.13, 3), (1.21, 1)]),
    (-0.05, [(0.92, 0), (1.00, 3), (1.08, 2), (1.16, 4), (1.25, 2), (1.34, 3)]),
    (-0.10, [(0.95, 1), (1.03, 6), (1.11, 3), (1.20, 5), (1.29, 2), (1.39, 4), (1.49, 2)]),
    (-0.15, [(0.99, 6), (1.07, 5), (1.16, 4), (1.25, 2), (1.35, 4), (1.45, 2), (1.55, 3), (1.65, 1)]),
    (-0.20, [(1.02, 7), (1.10, 6), (1.19, 4), (1.28, 5), (1.38, 3), (1.48, 4), (1.58, 2), (1.68, 4), (1.78, 2), (1.88, 3)]),
    (-0.25, [(1.05, 8), (1.13, 6), (1.22, 5), (1.32, 4), (1.42, 5), (1.52, 3), (1.62, 4), (1.72, 2), (1.82, 4), (1.92, 3)]),
    (-0.30, [(1.09, 8), (1.17, 7), (1.26, 5), (1.36, 6), (1.46, 4), (1.56, 5), (1.66, 3), (1.76, 4), (1.86, 3), (1.96, 4), (2.06, 3)]),
    (-0.35, [(1.13, 7), (1.21, 1), (1.30, 6), (1.40, 7), (1.50, 5), (1.60, 6), (1.70, 4), (1.80, 5), (1.90, 3), (2.00, 4), (2.10, 4), (2.20, 3)]),
    (-0.40, [(1.18, 0), (1.26, 6), (1.35, 8), (1.45, 6), (1.55, 7), (1.65, 5), (1.75, 6), (1.85, 4), (1.95, 5), (2.05, 4), (2.15, 5), (2.25, 4)]),
    (-0.45, [(1.25, 0), (1.33, 1), (1.42, 8), (1.52, 9), (1.62, 7), (1.72, 6), (1.82, 7), (1.92, 5), (2.02, 6), (2.12, 4), (2.22, 5), (2.32, 4)]),
    (-0.50, [(1.34, 0), (1.42, 3), (1.51, 8), (1.61, 9), (1.71, 8), (1.81, 7), (1.91, 8), (2.01, 6), (2.11, 7), (2.21, 5), (2.31, 5), (2.41, 4)]),
    (-0.55, [(1.44, 1), (1.53, 5), (1.63, 8), (1.73, 9), (1.83, 7), (1.93, 8), (2.03, 7), (2.13, 8), (2.23, 6), (2.33, 7), (2.43, 5)]),
    (-0.60, [(1.56, 4), (1.68, 6), (1.80, 8), (1.91, 9), (2.01, 7), (2.11, 8), (2.21, 7), (2.31, 8), (2.41, 6), (2.49, 5)]),
    (-0.65, [(1.75, 5), (1.90, 7), (2.03, 9), (2.14, 8), (2.24, 9), (2.34, 7), (2.44, 8)]),
    (-0.70, [(1.98, 6), (2.12, 8), (2.24, 9), (2.36, 7), (2.47, 8)]),
    (-0.75, [(2.20, 7), (2.32, 9), (2.44, 8)]),
]

# sparse stars around each cloud: (mass, C/N, colour 0..9)
MU1_STRAY = [(0.59, 0.25, 0), (0.62, 0.22, 1), (0.67, 0.25, 2), (0.64, 0.19, 1), (0.73, 0.20, 0), (0.66, 0.14, 5),
             (0.70, 0.14, 2), (0.72, 0.11, 7), (0.64, 0.11, 1), (0.74, 0.06, 0), (1.06, -0.08, 0), (1.19, -0.13, 4),
             (1.03, -0.42, 5), (1.43, -0.26, 0), (1.48, -0.26, 0), (1.13, -0.74, 7), (1.47, -0.60, 2), (1.52, -0.64, 4),
             (1.42, -0.68, 0), (1.58, -0.68, 5), (1.50, -0.74, 1), (1.60, -0.74, 6), (1.47, -0.80, 0), (1.55, -0.83, 3),
             (1.66, -0.80, 6), (1.52, -0.90, 0), (1.62, -0.88, 1), (1.70, -0.86, 4), (1.58, -0.96, 1), (1.67, -0.94, 0),
             (1.45, -0.72, 0), (1.63, -0.62, 8), (1.70, -0.71, 7)]
MC1_STRAY = [(1.11, 0.26, 0), (1.07, 0.23, 1), (1.10, 0.20, 0), (1.08, 0.18, 2), (1.13, 0.16, 0), (1.18, 0.15, 0),
             (1.05, 0.13, 4), (0.94, 0.14, 7), (1.23, 0.13, 0), (1.25, 0.05, 0), (0.98, -0.09, 0), (0.99, -0.11, 1),
             (1.00, -0.03, 3), (1.34, -0.07, 0), (1.40, -0.16, 1), (1.55, -0.58, 1), (1.70, -0.56, 5), (1.80, -0.55, 7),
             (1.62, -0.62, 3), (1.75, -0.63, 4), (1.85, -0.60, 6), (1.55, -0.66, 0), (1.68, -0.70, 2), (1.80, -0.72, 4),
             (1.95, -0.70, 6), (1.60, -0.78, 0), (1.73, -0.78, 1), (1.88, -0.80, 5), (2.05, -0.76, 7), (1.65, -0.88, 0),
             (1.78, -0.86, 3), (1.92, -0.90, 4), (2.03, -0.85, 6), (1.72, -0.96, 0), (1.85, -0.97, 2), (1.97, -0.96, 1),
             (2.10, -0.70, 7)]
SU1_STRAY = [(0.72, 0.25, 0), (0.72, 0.23, 1), (0.80, 0.25, 1), (0.78, 0.20, 0), (0.82, 0.18, 1), (0.86, 0.16, 2),
             (0.90, 0.13, 7), (0.81, 0.12, 0), (0.92, 0.11, 5), (0.95, 0.10, 3), (1.03, 0.12, 4), (1.07, -0.02, 0),
             (1.25, -0.12, 0), (1.27, -0.26, 0), (1.30, -0.25, 0), (1.75, -0.50, 9), (1.70, -0.54, 8), (1.65, -0.57, 4),
             (1.60, -0.61, 3), (1.45, -0.62, 0), (1.55, -0.64, 2), (1.40, -0.66, 0), (1.50, -0.69, 1), (1.62, -0.68, 5),
             (1.43, -0.74, 0), (1.55, -0.75, 3), (1.38, -0.80, 0), (1.48, -0.82, 1), (1.58, -0.85, 4), (1.42, -0.89, 0),
             (1.52, -0.92, 2), (1.35, -0.97, 0), (1.45, -0.98, 1), (1.62, -0.95, 6)]
SC1_STRAY = [(1.15, 0.26, 0), (1.16, 0.23, 0), (1.04, 0.20, 0), (1.06, 0.18, 1), (1.08, 0.16, 0), (1.15, 0.16, 1),
             (1.19, 0.13, 2), (1.12, 0.13, 6), (1.03, 0.11, 2), (0.90, -0.09, 0), (0.92, -0.11, 0), (0.96, -0.14, 1),
             (1.26, -0.02, 7), (1.30, -0.13, 0), (1.38, -0.22, 1), (1.42, -0.25, 0), (1.15, -0.42, 4), (1.68, -0.47, 8),
             (1.70, -0.52, 9), (1.66, -0.56, 6), (1.60, -0.58, 3), (1.47, -0.60, 0), (1.55, -0.62, 2), (1.63, -0.63, 5),
             (1.45, -0.67, 0), (1.52, -0.70, 1), (1.62, -0.71, 4), (1.48, -0.76, 0), (1.58, -0.79, 3), (1.66, -0.77, 6),
             (1.50, -0.84, 1), (1.60, -0.87, 2), (1.68, -0.84, 7), (1.45, -0.90, 0), (1.56, -0.93, 1), (1.63, -0.97, 3),
             (1.40, -0.82, 0)]
WU1_STRAY = [(0.88, 0.25, 0), (1.00, 0.23, 1), (0.82, 0.20, 0), (0.88, 0.18, 1), (0.79, 0.15, 0), (0.94, 0.14, 7),
             (0.99, 0.12, 3), (1.01, 0.08, 4), (1.15, 0.00, 9), (1.44, -0.23, 9), (1.55, -0.37, 1), (1.30, -0.45, 0),
             (1.40, -0.53, 0), (1.20, -0.46, 6), (1.58, -0.60, 0), (1.70, -0.62, 4), (1.80, -0.63, 4), (1.90, -0.64, 5),
             (1.65, -0.68, 1), (1.78, -0.70, 0), (1.88, -0.72, 2), (2.03, -0.69, 6), (2.10, -0.71, 6), (1.95, -0.76, 1),
             (2.05, -0.77, 5), (2.12, -0.79, 7), (1.72, -0.79, 0), (1.85, -0.84, 1), (2.07, -0.85, 6), (1.98, -0.90, 2),
             (1.75, -0.88, 0), (1.84, -0.91, 0), (2.00, -0.97, 2), (1.80, -0.99, 0), (1.73, -0.66, 6)]
WC1_STRAY = [(0.97, 0.25, 0), (1.00, 0.23, 1), (0.93, 0.19, 0), (0.95, 0.18, 1), (1.00, 0.14, 3), (1.06, 0.14, 7),
             (1.09, 0.09, 2), (1.12, 0.12, 5), (0.92, -0.05, 0), (0.92, -0.10, 1), (1.26, 0.00, 9), (1.05, -0.42, 5),
             (1.52, -0.42, 0), (1.60, -0.57, 1), (1.72, -0.58, 3), (1.85, -0.56, 6), (1.95, -0.58, 3), (1.55, -0.62, 0),
             (1.65, -0.65, 5), (1.78, -0.66, 2), (1.90, -0.64, 1), (1.99, -0.66, 0), (1.62, -0.71, 0), (1.73, -0.73, 4),
             (1.88, -0.74, 6), (1.98, -0.73, 1), (1.68, -0.80, 0), (1.85, -0.82, 3), (1.95, -0.86, 0), (1.75, -0.88, 1),
             (1.90, -0.93, 0), (2.00, -0.90, 0), (1.92, -0.97, 0), (1.33, -0.74, 8)]

MU2_STRAY = [(1.02, 0.29, 0), (0.94, 0.27, 0), (0.86, 0.27, 1), (0.97, 0.25, 0), (0.89, 0.24, 0), (0.68, 0.23, 0),
             (0.70, 0.19, 0), (0.79, 0.21, 1), (0.91, 0.18, 3), (1.05, 0.19, 1), (0.75, 0.16, 4), (0.64, 0.09, 0),
             (0.85, 0.13, 2), (0.95, 0.12, 1), (0.72, 0.05, 0), (1.39, 0.01, 9), (1.25, -0.12, 0), (0.97, -0.46, 0),
             (1.11, -0.66, 9), (1.22, -0.70, 0), (1.00, -0.75, 0), (1.29, -0.75, 0), (1.35, -0.66, 0), (1.45, -0.68, 2),
             (1.58, -0.66, 4), (1.65, -0.64, 8), (1.40, -0.74, 1), (1.52, -0.76, 4), (1.62, -0.74, 6), (1.72, -0.72, 9),
             (1.45, -0.82, 0), (1.57, -0.84, 3), (1.70, -0.82, 7), (1.80, -0.84, 8), (1.50, -0.90, 1), (1.62, -0.92, 2),
             (1.75, -0.90, 6), (1.85, -0.88, 9), (1.48, -0.98, 0), (1.58, -0.99, 4), (1.80, -0.96, 8), (1.92, -0.82, 3)]
MC2_STRAY = [(1.11, 0.29, 0), (1.10, 0.27, 0), (1.07, 0.25, 0), (1.02, 0.24, 3), (1.18, 0.24, 0), (0.87, 0.23, 0),
             (1.08, 0.22, 0), (0.99, 0.19, 1), (1.15, 0.18, 0), (1.18, 0.17, 0), (0.84, 0.17, 4), (0.92, 0.14, 5),
             (0.88, 0.12, 1), (0.78, 0.03, 0), (0.73, -0.01, 0), (0.81, -0.05, 0), (0.86, -0.07, 0), (0.83, -0.10, 0),
             (0.85, -0.13, 1), (1.18, 0.08, 0), (1.22, 0.01, 7), (1.27, -0.04, 0), (1.36, -0.21, 0), (1.45, -0.23, 1),
             (2.43, -0.70, 0), (2.39, -0.75, 0), (2.14, -0.82, 9), (2.20, -0.84, 8), (1.45, -0.64, 1), (1.58, -0.65, 3),
             (1.72, -0.63, 6), (1.85, -0.62, 7), (1.50, -0.72, 0), (1.65, -0.73, 3), (1.78, -0.72, 5), (1.92, -0.72, 9),
             (1.55, -0.80, 0), (1.70, -0.82, 2), (1.85, -0.80, 5), (2.00, -0.80, 9), (1.60, -0.88, 1), (1.75, -0.90, 3),
             (1.90, -0.88, 7), (1.55, -0.96, 0), (1.68, -0.98, 2), (1.82, -0.97, 1), (1.95, -0.95, 8), (2.02, -0.86, 4)]
SU2_STRAY = [(0.59, 0.23, 0), (0.71, 0.12, 0), (0.74, -0.02, 0), (0.79, -0.05, 0), (0.85, 0.27, 0), (0.95, 0.25, 1),
             (0.88, 0.23, 0), (0.76, 0.19, 0), (0.98, 0.19, 1), (1.00, 0.29, 0), (0.92, 0.15, 6), (0.82, 0.10, 2),
             (1.02, 0.11, 4), (2.35, -0.70, 0), (2.14, -0.75, 0), (1.82, -0.62, 9), (1.80, -0.66, 8), (1.75, -0.72, 7),
             (1.58, -0.76, 1), (1.70, -0.78, 5), (1.48, -0.80, 0), (1.60, -0.82, 3), (1.68, -0.84, 6), (1.45, -0.88, 0),
             (1.55, -0.88, 2), (1.62, -0.90, 5), (1.42, -0.94, 0), (1.52, -0.96, 1), (1.58, -0.99, 3), (1.46, -0.75, 0),
             (1.28, -0.45, 0), (1.20, -0.38, 0)]
SC2_STRAY = [(1.08, 0.29, 0), (1.09, 0.27, 0), (1.04, 0.25, 0), (1.17, 0.24, 0), (0.95, 0.23, 0), (1.03, 0.21, 0),
             (1.15, 0.19, 1), (1.12, 0.17, 0), (1.08, 0.12, 4), (1.19, 0.08, 0), (0.87, 0.09, 0), (0.84, 0.06, 1),
             (0.76, -0.03, 0), (0.78, -0.06, 0), (0.84, -0.10, 0), (0.87, -0.12, 0), (0.86, -0.16, 0), (1.24, 0.01, 9),
             (1.35, -0.19, 0), (1.40, -0.25, 0), (1.45, -0.62, 1), (1.55, -0.63, 4), (1.64, -0.62, 6), (1.50, -0.68, 0),
             (1.60, -0.70, 3), (1.68, -0.67, 7), (1.44, -0.74, 0), (1.55, -0.77, 2), (1.65, -0.76, 5), (1.52, -0.82, 0),
             (1.62, -0.84, 4), (1.68, -0.82, 8), (1.48, -0.88, 0), (1.58, -0.90, 2), (1.65, -0.92, 5), (1.52, -0.96, 0),
             (1.60, -0.98, 1), (1.40, -0.85, 0), (1.33, -0.70, 0)]
WU2_STRAY = [(1.02, 0.29, 0), (0.96, 0.28, 0), (0.94, 0.23, 0), (1.00, 0.21, 1), (0.90, 0.18, 0), (1.08, 0.18, 0),
             (1.00, 0.11, 6), (1.06, 0.09, 2), (0.75, 0.09, 0), (0.80, 0.14, 0), (0.86, 0.16, 0), (0.88, 0.12, 1),
             (0.79, 0.01, 0), (0.82, -0.06, 0), (1.16, 0.01, 9), (1.35, 0.01, 9), (1.26, -0.20, 5), (1.80, -0.46, 1),
             (1.58, -0.60, 0), (1.70, -0.62, 1), (1.82, -0.60, 4), (1.95, -0.62, 6), (2.05, -0.64, 8), (1.65, -0.68, 0),
             (1.78, -0.70, 2), (1.90, -0.69, 5), (2.02, -0.70, 7), (2.12, -0.72, 9), (2.20, -0.75, 8), (1.72, -0.76, 0),
             (1.85, -0.78, 3), (2.00, -0.78, 6), (2.10, -0.80, 4), (1.75, -0.85, 0), (1.88, -0.86, 1), (2.00, -0.85, 4),
             (2.08, -0.88, 9), (1.80, -0.93, 0), (1.92, -0.95, 2), (2.05, -0.92, 5), (1.72, -0.98, 0), (1.98, -0.99, 1)]
WC2_STRAY = [(0.89, 0.29, 0), (0.93, 0.29, 0), (1.01, 0.25, 0), (0.90, 0.21, 0), (1.03, 0.18, 0), (1.10, 0.18, 0),
             (0.95, 0.16, 0), (1.05, 0.13, 2), (0.85, 0.10, 0), (0.81, -0.01, 0), (0.83, -0.06, 0), (0.89, -0.16, 0),
             (0.97, -0.21, 0), (0.88, -0.10, 1), (1.17, 0.03, 9), (1.40, 0.03, 9), (1.28, -0.45, 0), (1.36, -0.50, 0),
             (1.30, -0.58, 8), (1.45, -0.62, 1), (1.55, -0.64, 5), (1.65, -0.64, 2), (1.75, -0.62, 4), (1.50, -0.68, 0),
             (1.62, -0.70, 8), (1.72, -0.70, 3), (1.82, -0.68, 1), (1.55, -0.75, 2), (1.65, -0.77, 9), (1.78, -0.76, 4),
             (1.92, -0.78, 6), (1.58, -0.82, 0), (1.70, -0.84, 5), (1.82, -0.82, 8), (1.62, -0.88, 0), (1.75, -0.90, 3),
             (1.85, -0.91, 6), (1.68, -0.96, 1), (1.80, -0.97, 0), (1.90, -0.99, 9), (1.50, -0.94, 0)]

MU3_STRAY = [(0.80, 0.28, 0), (0.90, 0.27, 1), (1.00, 0.28, 0), (1.05, 0.25, 0), (0.72, 0.15, 0), (1.10, 0.18, 1),
             (1.20, 0.20, 0), (1.30, 0.21, 2), (1.62, 0.17, 1), (1.15, 0.10, 3), (1.25, 0.08, 5), (1.35, 0.05, 2),
             (1.50, 0.12, 4), (1.40, -0.02, 0), (1.55, 0.03, 7), (1.75, 0.05, 3), (1.72, -0.10, 1), (1.50, -0.12, 4),
             (1.38, -0.15, 2), (1.60, -0.20, 0), (1.45, -0.25, 3), (1.70, -0.28, 2), (1.85, -0.22, 0), (1.58, -0.33, 4),
             (1.80, -0.38, 6), (1.95, -0.33, 1), (2.05, -0.42, 4), (2.20, -0.45, 3), (2.35, -0.48, 5), (2.45, -0.52, 4),
             (1.90, -0.48, 6), (2.10, -0.52, 2), (2.28, -0.56, 1), (2.45, -0.60, 3), (2.00, -0.60, 7), (2.15, -0.63, 4),
             (2.35, -0.65, 6), (2.48, -0.70, 4), (1.95, -0.70, 9), (2.10, -0.74, 5), (2.30, -0.78, 3), (0.95, -0.58, 0),
             (1.12, -0.62, 6), (1.25, -0.72, 0), (1.40, -0.78, 2), (1.55, -0.80, 0), (1.70, -0.82, 9), (1.85, -0.78, 9),
             (1.35, -0.86, 3), (1.50, -0.88, 1), (1.65, -0.90, 4), (1.80, -0.92, 9), (2.00, -0.90, 8), (1.45, -0.96, 0),
             (1.60, -0.98, 5), (1.75, -0.97, 2), (2.15, -0.95, 7), (2.30, -0.90, 3)]
MC3_STRAY = [(0.85, 0.29, 0), (0.95, 0.28, 1), (1.08, 0.27, 0), (1.15, 0.24, 0), (1.30, 0.25, 6), (1.00, 0.20, 2),
             (1.12, 0.18, 0), (1.25, 0.15, 1), (1.40, 0.12, 4), (1.55, 0.13, 3), (1.18, 0.08, 3), (1.32, 0.05, 5),
             (1.45, 0.00, 0), (1.60, -0.01, 7), (1.85, -0.02, 4), (1.78, 0.05, 0), (1.40, -0.10, 2), (1.55, -0.12, 5),
             (1.70, -0.15, 0), (1.48, -0.22, 3), (1.62, -0.27, 1), (1.80, -0.25, 4), (1.58, -0.35, 2), (1.75, -0.40, 5),
             (1.90, -0.36, 3), (2.05, -0.38, 0), (1.88, -0.46, 7), (2.00, -0.47, 4), (2.15, -0.50, 6), (2.30, -0.52, 3),
             (2.45, -0.50, 5), (1.95, -0.56, 2), (2.10, -0.58, 5), (2.25, -0.60, 4), (2.40, -0.62, 1), (1.92, -0.66, 9),
             (2.05, -0.68, 6), (2.20, -0.70, 3), (2.38, -0.74, 4), (2.00, -0.78, 9), (2.15, -0.80, 5), (2.30, -0.86, 9),
             (1.35, -0.80, 0), (1.50, -0.82, 1), (1.65, -0.84, 3), (1.80, -0.80, 9), (1.45, -0.88, 0), (1.58, -0.90, 2),
             (1.72, -0.92, 4), (1.88, -0.88, 9), (1.52, -0.97, 0), (1.65, -0.98, 3), (1.80, -0.96, 7), (2.10, -0.95, 9),
             (1.25, -0.72, 0)]
SU3_STRAY = [(0.70, 0.28, 0), (0.80, 0.29, 1), (0.92, 0.27, 0), (1.02, 0.25, 3), (1.10, 0.22, 0), (0.60, 0.18, 0),
             (1.05, 0.16, 2), (1.15, 0.12, 4), (1.28, 0.10, 1), (1.40, 0.14, 5), (1.20, 0.03, 6), (1.35, 0.02, 3),
             (1.50, 0.05, 4), (1.62, 0.08, 0), (1.30, -0.08, 1), (1.42, -0.10, 5), (1.55, -0.12, 2), (1.70, -0.15, 3),
             (1.45, -0.22, 0), (1.60, -0.25, 4), (1.75, -0.28, 2), (1.68, -0.36, 1), (1.85, -0.38, 4), (2.00, -0.40, 6),
             (1.92, -0.48, 3), (2.10, -0.46, 2), (2.25, -0.50, 4), (2.45, -0.53, 3), (2.02, -0.56, 5), (2.18, -0.58, 1),
             (2.35, -0.60, 4), (2.48, -0.62, 2), (1.95, -0.66, 7), (2.12, -0.68, 3), (2.30, -0.72, 5), (2.45, -0.78, 2),
             (1.40, -0.62, 0), (1.48, -0.70, 2), (1.55, -0.82, 0), (1.90, -0.84, 8), (2.05, -0.82, 6), (1.50, -0.88, 1),
             (1.62, -0.90, 3), (1.78, -0.92, 6), (1.95, -0.95, 2), (1.58, -0.97, 0), (1.70, -0.99, 4), (1.85, -0.98, 5),
             (1.42, -0.95, 0), (2.20, -0.90, 7)]
SC3_STRAY = [(0.83, 0.29, 1), (1.10, 0.27, 6), (1.32, 0.28, 0), (1.15, 0.22, 0), (1.22, 0.18, 1), (1.30, 0.15, 3),
             (1.38, 0.13, 2), (1.20, 0.08, 4), (1.35, 0.07, 5), (1.48, 0.10, 2), (1.65, 0.15, 4), (1.75, 0.02, 1),
             (1.27, 0.00, 8), (1.40, -0.05, 5), (1.55, -0.05, 3), (1.60, -0.12, 0), (1.45, -0.18, 1), (1.70, -0.20, 2),
             (1.55, -0.25, 4), (1.80, -0.28, 3), (1.65, -0.33, 1), (1.95, -0.33, 1), (1.85, -0.40, 4), (2.00, -0.42, 5),
             (2.15, -0.45, 3), (2.30, -0.48, 2), (2.45, -0.50, 4), (1.90, -0.50, 7), (2.05, -0.53, 2), (2.22, -0.55, 5),
             (2.40, -0.57, 3), (1.95, -0.60, 9), (2.10, -0.62, 4), (2.30, -0.64, 6), (2.48, -0.62, 2), (2.00, -0.70, 5),
             (2.20, -0.72, 7), (2.40, -0.70, 3), (1.40, -0.62, 0), (1.42, -0.80, 0), (1.45, -0.90, 1), (1.55, -0.92, 3),
             (1.65, -0.88, 7), (1.80, -0.85, 9), (1.95, -0.83, 5), (1.50, -0.98, 0), (1.60, -0.99, 4), (1.75, -0.96, 3),
             (2.20, -0.92, 4), (2.45, -0.88, 0)]
WU3_STRAY = [(0.86, 0.29, 0), (0.96, 0.28, 1), (1.10, 0.26, 0), (1.22, 0.27, 2), (1.50, 0.27, 0), (0.76, 0.17, 0),
             (1.15, 0.20, 1), (1.30, 0.18, 2), (1.40, 0.14, 4), (1.65, 0.15, 3), (1.22, 0.08, 3), (1.35, 0.06, 5),
             (1.50, 0.03, 0), (1.80, 0.13, 5), (1.95, -0.02, 4), (1.40, -0.05, 2), (1.55, -0.08, 4), (1.70, -0.12, 0),
             (1.52, -0.18, 1), (1.65, -0.22, 3), (1.80, -0.20, 4), (1.75, -0.30, 1), (1.90, -0.33, 3), (2.00, -0.36, 5),
             (2.05, -0.43, 2), (2.20, -0.45, 4), (2.35, -0.47, 3), (2.48, -0.42, 4), (2.10, -0.52, 5), (2.25, -0.55, 2),
             (2.42, -0.57, 4), (2.05, -0.62, 5), (2.20, -0.65, 3), (2.40, -0.66, 6), (2.15, -0.72, 4), (2.30, -0.76, 2),
             (1.50, -0.75, 0), (1.55, -0.82, 0), (1.62, -0.88, 1), (1.75, -0.85, 3), (1.90, -0.82, 8), (2.05, -0.80, 9),
             (1.65, -0.94, 0), (1.80, -0.95, 4), (1.95, -0.92, 9), (2.10, -0.88, 8), (1.72, -0.99, 2), (1.88, -0.99, 9),
             (2.05, -0.97, 5), (2.25, -0.92, 3)]
WC3_STRAY = [(0.84, 0.29, 0), (0.96, 0.28, 1), (1.08, 0.26, 0), (1.25, 0.22, 0), (1.10, 0.20, 9), (1.42, 0.27, 0),
             (1.20, 0.16, 2), (1.32, 0.12, 3), (1.45, 0.15, 4), (1.70, 0.12, 5), (1.25, 0.05, 4), (1.40, 0.03, 2),
             (1.58, 0.00, 0), (1.85, 0.07, 5), (1.35, -0.06, 5), (1.48, -0.10, 2), (1.62, -0.13, 4), (1.50, -0.20, 1),
             (1.68, -0.22, 0), (1.80, -0.18, 3), (1.60, -0.30, 2), (1.75, -0.33, 4), (1.90, -0.30, 1), (1.78, -0.42, 3),
             (1.92, -0.44, 2), (2.10, -0.42, 6), (2.25, -0.46, 3), (2.40, -0.48, 4), (1.85, -0.52, 5), (2.00, -0.55, 3),
             (2.18, -0.57, 1), (2.35, -0.56, 4), (2.48, -0.60, 3), (1.95, -0.62, 4), (2.12, -0.66, 6), (2.30, -0.68, 2),
             (2.45, -0.68, 5), (1.20, -0.57, 5), (1.35, -0.72, 0), (1.45, -0.80, 1), (1.58, -0.82, 3), (1.75, -0.82, 7),
             (1.90, -0.80, 9), (2.05, -0.78, 4), (1.40, -0.88, 0), (1.52, -0.92, 2), (1.65, -0.92, 5), (1.85, -0.90, 8),
             (2.25, -0.85, 6), (1.50, -0.99, 0), (1.62, -0.98, 3), (1.80, -0.96, 6)]

MU4_STRAY = [(0.95, 0.29, 0), (1.05, 0.29, 1), (1.20, 0.29, 2), (1.40, 0.29, 0), (1.60, 0.27, 5), (1.15, 0.22, 1),
             (1.25, 0.18, 0), (1.38, 0.20, 3), (1.55, 0.19, 9), (1.75, 0.18, 1), (2.45, 0.17, 9), (1.20, 0.12, 2),
             (1.30, 0.10, 0), (1.45, 0.12, 4), (1.70, 0.10, 3), (1.28, 0.05, 4), (1.40, 0.03, 2), (1.55, 0.05, 6),
             (1.75, 0.04, 4), (1.95, 0.02, 5), (1.35, -0.03, 1), (1.50, -0.06, 3), (1.62, -0.04, 1), (1.80, -0.08, 2),
             (1.98, -0.10, 6), (1.52, -0.12, 2), (1.68, -0.14, 4), (1.85, -0.16, 3), (2.00, -0.18, 1), (1.80, -0.23, 3),
             (1.95, -0.26, 2), (2.10, -0.28, 4), (2.08, -0.34, 1), (2.25, -0.36, 4), (2.32, -0.42, 3), (2.45, -0.45, 4),
             (1.00, -0.58, 1), (1.10, -0.48, 0), (1.20, -0.62, 0), (1.35, -0.66, 3), (1.45, -0.72, 1), (1.60, -0.75, 4),
             (1.75, -0.74, 2), (1.88, -0.76, 9), (1.98, -0.80, 5), (2.12, -0.82, 3), (2.25, -0.85, 9), (2.40, -0.83, 8),
             (1.30, -0.78, 0), (1.50, -0.82, 4), (1.65, -0.86, 2), (1.80, -0.88, 6), (1.95, -0.90, 3), (2.10, -0.92, 9),
             (2.30, -0.94, 4), (2.45, -0.90, 9), (1.55, -0.95, 0), (1.72, -0.98, 5), (1.90, -0.97, 7), (2.05, -0.99, 2),
             (2.20, -0.97, 9), (2.48, -0.98, 6), (1.18, 0.15, 1), (1.22, 0.05, 3), (1.28, -0.02, 0), (1.33, 0.14, 4),
             (1.36, -0.08, 1), (1.42, 0.07, 2), (1.46, -0.02, 4), (1.48, -0.14, 0), (1.58, -0.10, 3), (1.60, 0.00, 1),
             (1.65, -0.18, 4), (1.72, -0.06, 2), (1.78, -0.20, 1), (1.82, -0.02, 5), (1.90, -0.12, 3), (1.92, -0.22, 4)]
MC4_STRAY = [(0.90, 0.29, 0), (1.00, 0.29, 0), (1.15, 0.28, 2), (1.35, 0.29, 0), (1.55, 0.28, 8), (1.10, 0.23, 1),
             (1.22, 0.20, 0), (1.32, 0.21, 3), (1.52, 0.19, 9), (1.70, 0.17, 1), (2.38, 0.17, 4), (1.18, 0.12, 2),
             (1.30, 0.10, 4), (1.45, 0.12, 1), (1.65, 0.08, 3), (1.90, 0.10, 0), (1.30, 0.04, 2), (1.42, 0.02, 5),
             (1.58, 0.05, 3), (1.72, 0.03, 8), (1.95, 0.05, 9), (1.40, -0.04, 1), (1.55, -0.06, 4), (1.70, -0.08, 2),
             (1.88, -0.06, 4), (2.05, -0.05, 1), (1.62, -0.12, 3), (1.78, -0.14, 1), (1.95, -0.16, 4), (2.15, -0.14, 6),
             (1.88, -0.22, 2), (2.05, -0.24, 4), (2.22, -0.27, 3), (2.18, -0.33, 1), (2.32, -0.36, 4), (2.42, -0.40, 3),
             (1.05, -0.62, 0), (1.15, -0.55, 0), (1.25, -0.66, 2), (1.38, -0.70, 0), (1.50, -0.74, 4), (1.65, -0.72, 1),
             (1.80, -0.76, 5), (1.95, -0.80, 3), (2.10, -0.84, 9), (2.25, -0.86, 8), (2.40, -0.84, 9), (1.35, -0.80, 0),
             (1.50, -0.84, 3), (1.65, -0.88, 1), (1.80, -0.90, 4), (1.95, -0.92, 6), (2.10, -0.94, 9), (2.30, -0.92, 4),
             (2.45, -0.95, 9), (1.55, -0.98, 2), (1.72, -0.97, 5), (1.90, -0.99, 7), (2.15, -0.99, 3), (2.40, -0.99, 8),
             (1.16, 0.16, 1), (1.20, 0.06, 3), (1.25, -0.03, 0), (1.30, 0.12, 4), (1.35, -0.10, 1), (1.40, 0.06, 2),
             (1.46, -0.02, 4), (1.50, -0.16, 0), (1.58, -0.08, 3), (1.62, 0.02, 1), (1.66, -0.18, 4), (1.74, -0.04, 2),
             (1.80, -0.20, 1), (1.84, -0.08, 5), (1.92, -0.12, 3), (2.00, -0.24, 4)]
SU4_STRAY = [(0.95, 0.29, 0), (1.10, 0.28, 1), (1.25, 0.28, 0), (1.70, 0.29, 2), (1.38, 0.26, 4), (1.15, 0.20, 2),
             (1.28, 0.18, 0), (1.40, 0.16, 3), (1.62, 0.18, 8), (2.40, 0.17, 9), (1.20, 0.12, 3), (1.35, 0.10, 1),
             (1.50, 0.08, 4), (1.72, 0.10, 2), (1.30, 0.05, 2), (1.45, 0.02, 4), (1.60, 0.04, 1), (1.80, 0.02, 3),
             (2.00, 0.06, 9), (1.40, -0.04, 1), (1.58, -0.06, 3), (1.75, -0.08, 2), (1.92, -0.06, 7), (2.10, -0.08, 9),
             (1.55, -0.12, 3), (1.70, -0.14, 2), (1.88, -0.16, 4), (2.05, -0.14, 1), (1.90, -0.22, 3), (2.08, -0.24, 2),
             (2.22, -0.26, 4), (2.20, -0.32, 3), (2.35, -0.36, 1), (2.45, -0.40, 4), (1.00, -0.30, 7), (1.10, -0.46, 6),
             (1.20, -0.55, 1), (1.35, -0.62, 0), (1.45, -0.66, 4), (1.55, -0.72, 2), (1.70, -0.76, 5), (1.85, -0.78, 3),
             (1.95, -0.75, 9), (2.10, -0.80, 7), (2.25, -0.82, 9), (2.40, -0.84, 8), (1.40, -0.78, 1), (1.60, -0.84, 0),
             (1.75, -0.86, 4), (1.90, -0.90, 2), (2.05, -0.88, 5), (2.20, -0.92, 9), (2.35, -0.90, 7), (2.45, -0.96, 9),
             (1.50, -0.96, 0), (1.68, -0.98, 4), (1.85, -0.97, 2), (2.00, -0.99, 5), (2.25, -0.98, 3),
             (1.15, 0.16, 2), (1.20, 0.04, 3), (1.26, -0.04, 1), (1.32, 0.12, 4), (1.36, -0.08, 0), (1.44, 0.06, 2),
             (1.48, -0.02, 4), (1.52, -0.15, 1), (1.60, -0.08, 3), (1.64, 0.02, 1), (1.68, -0.19, 4), (1.76, -0.04, 2),
             (1.82, -0.20, 0), (1.86, -0.10, 5), (1.95, -0.14, 3), (2.00, -0.26, 4)]
SC4_STRAY = [(0.92, 0.29, 0), (1.05, 0.28, 1), (1.22, 0.29, 0), (1.45, 0.28, 3), (1.68, 0.27, 9), (1.12, 0.22, 0),
             (1.25, 0.20, 1), (1.40, 0.17, 4), (1.55, 0.15, 2), (2.30, 0.15, 9), (1.18, 0.12, 2), (1.32, 0.10, 3),
             (1.48, 0.08, 1), (1.65, 0.06, 4), (1.85, 0.10, 0), (1.28, 0.03, 4), (1.45, 0.01, 2), (1.62, -0.01, 5),
             (1.80, 0.02, 3), (2.00, -0.02, 7), (1.55, -0.08, 3), (1.72, -0.10, 2), (1.90, -0.12, 4), (2.10, -0.10, 1),
             (1.70, -0.16, 4), (1.85, -0.18, 1), (2.05, -0.20, 6), (1.95, -0.26, 3), (2.15, -0.28, 4), (2.30, -0.25, 2),
             (2.22, -0.34, 4), (2.40, -0.36, 2), (0.95, -0.28, 6), (1.10, -0.45, 0), (1.18, -0.55, 2), (1.35, -0.62, 0),
             (1.48, -0.66, 3), (1.62, -0.70, 1), (1.75, -0.74, 4), (1.88, -0.76, 9), (2.00, -0.80, 6), (2.15, -0.82, 9),
             (2.30, -0.84, 8), (2.45, -0.80, 9), (1.40, -0.76, 0), (1.55, -0.80, 4), (1.70, -0.84, 2), (1.85, -0.88, 5),
             (2.00, -0.90, 9), (2.15, -0.92, 4), (2.35, -0.94, 9), (1.45, -0.90, 1), (1.60, -0.95, 3), (1.78, -0.97, 5),
             (1.95, -0.99, 2), (2.25, -0.98, 9), (2.45, -0.97, 4),
             (1.14, 0.16, 1), (1.20, 0.06, 3), (1.25, -0.02, 0), (1.30, 0.13, 4), (1.35, -0.08, 1), (1.42, 0.05, 2),
             (1.47, -0.04, 4), (1.50, -0.15, 0), (1.58, -0.06, 3), (1.62, 0.03, 1), (1.66, -0.20, 4), (1.74, -0.05, 2),
             (1.80, -0.22, 1), (1.86, -0.08, 5), (1.94, -0.14, 3), (2.02, -0.24, 4)]
WU4_STRAY = [(0.95, 0.29, 0), (1.08, 0.29, 1), (1.22, 0.28, 3), (1.55, 0.29, 0), (1.80, 0.29, 4), (1.12, 0.22, 1),
             (1.25, 0.20, 0), (1.40, 0.18, 2), (1.58, 0.17, 4), (1.80, 0.12, 3), (2.30, 0.19, 9), (1.20, 0.10, 2),
             (1.32, 0.08, 1), (1.48, 0.05, 3), (1.65, 0.04, 2), (1.95, 0.02, 9), (1.30, 0.00, 1), (1.42, -0.03, 3),
             (1.58, -0.05, 1), (1.75, -0.04, 4), (1.95, -0.08, 5), (1.52, -0.10, 2), (1.68, -0.12, 4), (1.85, -0.14, 1),
             (2.05, -0.16, 3), (1.85, -0.22, 2), (2.02, -0.24, 4), (2.20, -0.26, 3), (2.25, -0.32, 1), (2.40, -0.35, 4),
             (2.45, -0.42, 3), (0.95, -0.32, 9), (1.12, -0.50, 0), (1.25, -0.58, 1), (1.38, -0.64, 0), (1.52, -0.68, 3),
             (1.65, -0.72, 1), (1.78, -0.74, 4), (1.92, -0.78, 2), (2.05, -0.82, 5), (2.18, -0.80, 9), (2.32, -0.84, 8),
             (2.45, -0.82, 9), (1.45, -0.78, 0), (1.60, -0.82, 2), (1.75, -0.86, 4), (1.90, -0.88, 1), (2.05, -0.90, 6),
             (2.22, -0.92, 9), (2.40, -0.90, 7), (1.55, -0.92, 0), (1.70, -0.96, 3), (1.88, -0.97, 5), (2.05, -0.99, 2),
             (2.30, -0.98, 9), (2.48, -0.96, 8),
             (1.15, 0.15, 1), (1.20, 0.04, 3), (1.26, -0.03, 0), (1.32, 0.12, 4), (1.37, -0.10, 1), (1.43, 0.06, 2),
             (1.47, -0.02, 4), (1.52, -0.16, 0), (1.60, -0.08, 3), (1.63, 0.02, 1), (1.68, -0.18, 4), (1.75, -0.05, 2),
             (1.80, -0.20, 1), (1.86, -0.09, 5), (1.94, -0.13, 3), (2.02, -0.25, 4)]
WC4_STRAY = [(0.93, 0.29, 0), (1.05, 0.29, 2), (1.20, 0.28, 1), (1.55, 0.29, 3), (1.78, 0.27, 4), (1.15, 0.23, 1),
             (1.28, 0.21, 0), (1.40, 0.19, 3), (1.58, 0.18, 2), (1.75, 0.14, 4), (1.85, 0.18, 9), (1.22, 0.12, 2),
             (1.35, 0.10, 4), (1.50, 0.08, 1), (1.68, 0.06, 3), (1.95, 0.10, 8), (1.32, 0.03, 3), (1.46, 0.01, 2),
             (1.62, -0.01, 4), (1.80, 0.01, 1), (2.00, 0.00, 9), (1.58, -0.06, 3), (1.75, -0.08, 2), (1.92, -0.10, 4),
             (2.12, -0.08, 5), (1.72, -0.14, 1), (1.88, -0.16, 4), (2.05, -0.18, 3), (1.98, -0.24, 2), (2.15, -0.26, 4),
             (2.32, -0.24, 3), (2.28, -0.32, 4), (2.45, -0.38, 3), (0.92, -0.12, 9), (0.95, -0.22, 6), (1.05, -0.50, 4),
             (1.15, -0.58, 1), (1.28, -0.62, 0), (1.40, -0.66, 3), (1.55, -0.70, 1), (1.70, -0.74, 5), (1.85, -0.76, 3),
             (2.00, -0.78, 9), (2.15, -0.80, 6), (2.30, -0.82, 9), (2.45, -0.80, 8), (1.35, -0.78, 0), (1.50, -0.82, 3),
             (1.65, -0.86, 1), (1.80, -0.88, 4), (1.95, -0.90, 9), (2.10, -0.92, 5), (2.28, -0.94, 9), (2.45, -0.92, 4),
             (1.45, -0.94, 0), (1.62, -0.97, 4), (1.80, -0.98, 2), (2.05, -0.99, 6), (2.40, -0.98, 9),
             (1.20, 0.14, 1), (1.24, 0.04, 3), (1.30, -0.04, 0), (1.35, 0.12, 4), (1.40, -0.10, 1), (1.45, 0.05, 2),
             (1.50, -0.02, 4), (1.54, -0.15, 0), (1.62, -0.06, 3), (1.66, 0.02, 1), (1.70, -0.19, 4), (1.78, -0.04, 2),
             (1.84, -0.21, 1), (1.88, -0.08, 5), (1.96, -0.14, 3), (2.04, -0.24, 4)]

CORE = [
    [MU1_CORE, MC1_CORE, SU1_CORE, SC1_CORE, WU1_CORE, WC1_CORE],
    [MU2_CORE, MC2_CORE, SU2_CORE, SC2_CORE, WU2_CORE, WC2_CORE],
    [MU3_CORE, MC3_CORE, SU3_CORE, SC3_CORE, WU3_CORE, WC3_CORE],
    [MU4_CORE, MC4_CORE, SU4_CORE, SC4_CORE, WU4_CORE, WC4_CORE],
]
STRAY = [
    [MU1_STRAY, MC1_STRAY, SU1_STRAY, SC1_STRAY, WU1_STRAY, WC1_STRAY],
    [MU2_STRAY, MC2_STRAY, SU2_STRAY, SC2_STRAY, WU2_STRAY, WC2_STRAY],
    [MU3_STRAY, MC3_STRAY, SU3_STRAY, SC3_STRAY, WU3_STRAY, WC3_STRAY],
    [MU4_STRAY, MC4_STRAY, SU4_STRAY, SC4_STRAY, WU4_STRAY, WC4_STRAY],
]

FIG_PX = 2011
COL_LEFT = 138.5
COL_PITCH = 312.7
COL_W = 299
ROW_TOP = 41
ROW_PITCH = 479.3
ROW_H = 455
CORE_SIZE = [15, 15, 19, 22]
STRAY_SIZE = 5
FONT = 'DejaVu Sans'
GRID = '#b0b0b0'


def unpack_levels(levels):
    xs, ys, cs = [], [], []
    for y, row in levels:
        for x, c in row:
            xs.append(x)
            ys.append(y)
            cs.append(c)
    return xs, ys, cs


def marker(colors, size):
    return dict(color=colors, colorscale='Viridis', cmin=0, cmax=9,
                size=size, line=dict(width=0), opacity=1)


fig = go.Figure()
layout = dict(
    width=FIG_PX, height=FIG_PX,
    margin=dict(l=0, r=0, t=0, b=0),
    paper_bgcolor='white', plot_bgcolor='white',
    showlegend=False,
    font=dict(family=FONT, color='black', size=22),
)
shapes = []
annotations = []

for r in range(4):
    top = ROW_TOP + ROW_PITCH * r
    ydom = [1 - (top + ROW_H) / FIG_PX, 1 - top / FIG_PX]
    for c in range(6):
        k = r * 6 + c + 1
        sfx = '' if k == 1 else str(k)
        left = COL_LEFT + COL_PITCH * c
        xdom = [left / FIG_PX, (left + COL_W) / FIG_PX]

        xs, ys, cs = unpack_levels(CORE[r][c])
        fig.add_trace(go.Scatter(x=xs, y=ys, mode='markers', hoverinfo='skip',
                                 marker=marker(cs, CORE_SIZE[r]),
                                 xaxis='x' + sfx, yaxis='y' + sfx))
        st = STRAY[r][c]
        fig.add_trace(go.Scatter(x=[p[0] for p in st], y=[p[1] for p in st], mode='markers',
                                 hoverinfo='skip', marker=marker([p[2] for p in st], STRAY_SIZE),
                                 xaxis='x' + sfx, yaxis='y' + sfx))

        layout['xaxis' + sfx] = dict(
            domain=xdom, anchor='y' + sfx, range=[0.5, 2.5],
            tickvals=X_TICKS, ticktext=[str(v) for v in X_TICKS],
            showticklabels=(r == 3), ticks='outside', ticklen=7, tickwidth=1.3,
            tickcolor='black', tickfont=dict(size=22),
            showgrid=False, zeroline=False,
            showline=True, linecolor='black', linewidth=1.4, mirror=True,
            layer='above traces', automargin=False,
        )
        layout['yaxis' + sfx] = dict(
            domain=ydom, anchor='x' + sfx, range=[-1.0, 0.3],
            tickvals=Y_TICKS, ticktext=Y_TICKTEXT,
            showticklabels=(c == 0), ticks='outside', ticklen=7, tickwidth=1.3,
            tickcolor='black', tickfont=dict(size=22),
            showgrid=False, zeroline=False,
            showline=True, linecolor='black', linewidth=1.4, mirror=True,
            layer='above traces', automargin=False,
        )

        # grid drawn over the points, as in the original
        for xv in X_TICKS:
            shapes.append(dict(type='line', xref='x' + sfx, yref='y' + sfx, layer='above',
                               x0=xv, x1=xv, y0=-1.0, y1=0.3,
                               line=dict(color=GRID, width=1.3)))
        for yv in Y_TICKS[1:]:
            shapes.append(dict(type='line', xref='x' + sfx, yref='y' + sfx, layer='above',
                               x0=0.5, x1=2.5, y0=yv, y1=yv,
                               line=dict(color=GRID, width=1.3)))

        if r == 0:
            annotations.append(dict(text=METHODS[c], xref='paper', yref='paper',
                                    x=(left + COL_W / 2) / FIG_PX, y=1 - 24 / FIG_PX,
                                    xanchor='center', yanchor='middle', showarrow=False,
                                    font=dict(size=30)))
        if r == 3:
            annotations.append(dict(text='Estimated Mass [<i>M</i><sub>\u2299</sub>]',
                                    xref='paper', yref='paper',
                                    x=(left + COL_W / 2) / FIG_PX, y=1 - 1986 / FIG_PX,
                                    xanchor='center', yanchor='middle', showarrow=False,
                                    font=dict(size=24)))

    annotations.append(dict(text=ROW_LABELS[r] + '<br>[C/N]', xref='paper', yref='paper',
                            x=34 / FIG_PX, y=1 - (top + ROW_H / 2) / FIG_PX,
                            xanchor='center', yanchor='middle', textangle=-90,
                            showarrow=False, font=dict(size=24)))

layout['shapes'] = shapes
layout['annotations'] = annotations
fig.update_layout(**layout)

fig.write_html("out.html", config={'displayModeBar': False},
               post_script="document.body.style.margin='0';")
